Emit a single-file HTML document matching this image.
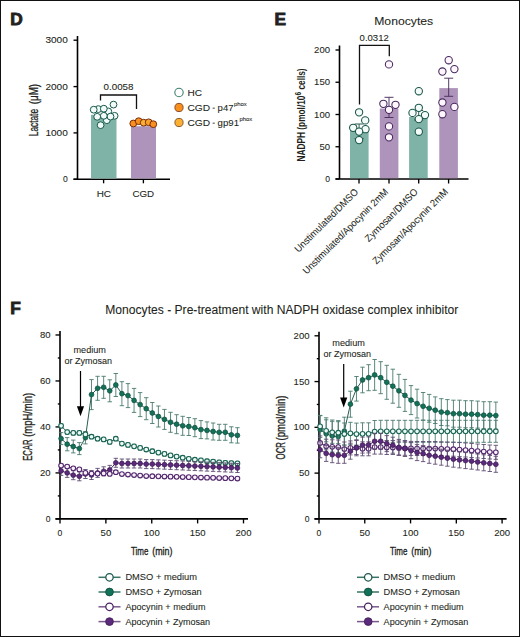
<!DOCTYPE html>
<html><head><meta charset="utf-8"><style>
html,body{margin:0;padding:0;background:#fff;}
svg{display:block;font-family:"Liberation Sans",sans-serif;}
</style></head><body>
<svg width="520" height="637" viewBox="0 0 520 637">
<rect x="0.5" y="0.5" width="519" height="636" fill="#fff" stroke="#111" stroke-width="1"/>
<text x="10.2" y="24.5" font-size="17.3" text-anchor="start" font-weight="bold" fill="#231f20" stroke="#231f20" stroke-width="0.9" >D</text>
<path d="M77.5,36 V179.2 M73.5,179.2 H170" stroke="#000" stroke-width="1.6" fill="none"/>
<path d="M73.5,179.2 H77.5" stroke="#000" stroke-width="1.35"/>
<text x="67.8" y="182.2" font-size="8.6" text-anchor="end" font-weight="normal" fill="#231f20" stroke="#231f20" stroke-width="0.08" >0</text>
<path d="M73.5,132.9 H77.5" stroke="#000" stroke-width="1.35"/>
<text x="67.8" y="135.9" font-size="8.6" text-anchor="end" font-weight="normal" fill="#231f20" stroke="#231f20" stroke-width="0.08" textLength="22.4" lengthAdjust="spacingAndGlyphs" >1000</text>
<path d="M73.5,86.6 H77.5" stroke="#000" stroke-width="1.35"/>
<text x="67.8" y="89.6" font-size="8.6" text-anchor="end" font-weight="normal" fill="#231f20" stroke="#231f20" stroke-width="0.08" textLength="22.4" lengthAdjust="spacingAndGlyphs" >2000</text>
<path d="M73.5,40.2 H77.5" stroke="#000" stroke-width="1.35"/>
<text x="67.8" y="43.2" font-size="8.6" text-anchor="end" font-weight="normal" fill="#231f20" stroke="#231f20" stroke-width="0.08" textLength="22.4" lengthAdjust="spacingAndGlyphs" >3000</text>
<path d="M103.6,179.2 V183.3" stroke="#000" stroke-width="1.35"/>
<path d="M143.4,179.2 V183.3" stroke="#000" stroke-width="1.35"/>
<rect x="91" y="114.8" width="25.5" height="63.6" fill="#80b3a7"/>
<rect x="131" y="126.2" width="25" height="52.2" fill="#ae94bb"/>
<text x="103.8" y="196.6" font-size="9.1" text-anchor="middle" font-weight="normal" fill="#231f20" stroke="#231f20" stroke-width="0.08" textLength="14.3" lengthAdjust="spacingAndGlyphs" >HC</text>
<text x="143.3" y="196.6" font-size="9.1" text-anchor="middle" font-weight="normal" fill="#231f20" stroke="#231f20" stroke-width="0.08" textLength="21.7" lengthAdjust="spacingAndGlyphs" >CGD</text>
<path d="M100.5,100.5 V95 H136.5 V109" stroke="#111" stroke-width="1.3" fill="none"/>
<text x="103.5" y="90.3" font-size="8.6" text-anchor="start" font-weight="normal" fill="#231f20" stroke="#231f20" stroke-width="0.08" textLength="30" lengthAdjust="spacingAndGlyphs" >0.0058</text>
<circle cx="98.3" cy="109.1" r="3.4" fill="#f2fbf8" stroke="#17594b" stroke-width="1.0"/>
<circle cx="108.3" cy="111.4" r="3.4" fill="#f2fbf8" stroke="#17594b" stroke-width="1.0"/>
<circle cx="114.6" cy="115.8" r="3.4" fill="#f2fbf8" stroke="#17594b" stroke-width="1.0"/>
<circle cx="93.7" cy="109.7" r="3.4" fill="#f2fbf8" stroke="#17594b" stroke-width="1.0"/>
<circle cx="103.8" cy="108.7" r="3.4" fill="#f2fbf8" stroke="#17594b" stroke-width="1.0"/>
<circle cx="113.5" cy="104.6" r="3.4" fill="#f2fbf8" stroke="#17594b" stroke-width="1.0"/>
<circle cx="106.8" cy="120.2" r="3.4" fill="#f2fbf8" stroke="#17594b" stroke-width="1.0"/>
<circle cx="110.5" cy="116.6" r="3.4" fill="#f2fbf8" stroke="#17594b" stroke-width="1.0"/>
<circle cx="103.8" cy="115.8" r="3.4" fill="#f2fbf8" stroke="#17594b" stroke-width="1.0"/>
<circle cx="97.2" cy="116.8" r="3.4" fill="#f2fbf8" stroke="#17594b" stroke-width="1.0"/>
<circle cx="100.6" cy="125.2" r="3.4" fill="#f2fbf8" stroke="#17594b" stroke-width="1.0"/>
<circle cx="133.3" cy="123.5" r="3.4" fill="#f7901e" stroke="#7a2e10" stroke-width="1.0"/>
<circle cx="138.7" cy="121.2" r="3.4" fill="#f7901e" stroke="#7a2e10" stroke-width="1.0"/>
<circle cx="143.7" cy="122.7" r="3.4" fill="#fbb034" stroke="#7a2e10" stroke-width="1.0"/>
<circle cx="148.7" cy="122.3" r="3.4" fill="#f9a22a" stroke="#7a2e10" stroke-width="1.0"/>
<circle cx="153.3" cy="124.2" r="3.4" fill="#f7901e" stroke="#7a2e10" stroke-width="1.0"/>
<circle cx="179" cy="92.5" r="4.2" fill="#fff" stroke="#3d7d6e" stroke-width="1.1"/>
<circle cx="179" cy="107.5" r="4.1" fill="#f7901e" stroke="#8a4a22" stroke-width="1"/>
<circle cx="179" cy="122.5" r="4.1" fill="#fbb034" stroke="#8a5a2a" stroke-width="1"/>
<text x="187.5" y="95.8" font-size="9.2" text-anchor="start" font-weight="normal" fill="#231f20" stroke="#231f20" stroke-width="0.08" textLength="14.5" lengthAdjust="spacingAndGlyphs" >HC</text>
<text x="187.5" y="110.8" font-size="9.2" text-anchor="start" font-weight="normal" fill="#231f20" stroke="#231f20" stroke-width="0.08" textLength="22.6" lengthAdjust="spacingAndGlyphs" >CGD</text>
<rect x="212.6" y="107.7" width="2.2" height="0.9" fill="#333"/>
<text x="217.6" y="110.8" font-size="9.2" text-anchor="start" font-weight="normal" fill="#231f20" stroke="#231f20" stroke-width="0.08" textLength="15.9" lengthAdjust="spacingAndGlyphs" >p47</text>
<text x="234" y="105.5" font-size="5.8" text-anchor="start" font-weight="normal" fill="#231f20" stroke="#231f20" stroke-width="0.08" textLength="12.8" lengthAdjust="spacingAndGlyphs" >phox</text>
<text x="187.5" y="125.8" font-size="9.2" text-anchor="start" font-weight="normal" fill="#231f20" stroke="#231f20" stroke-width="0.08" textLength="22.6" lengthAdjust="spacingAndGlyphs" >CGD</text>
<rect x="212.6" y="122.7" width="2.2" height="0.9" fill="#333"/>
<text x="217.6" y="125.8" font-size="9.2" text-anchor="start" font-weight="normal" fill="#231f20" stroke="#231f20" stroke-width="0.08" textLength="21.4" lengthAdjust="spacingAndGlyphs" >gp91</text>
<text x="239.5" y="120.5" font-size="5.8" text-anchor="start" font-weight="normal" fill="#231f20" stroke="#231f20" stroke-width="0.08" textLength="12.8" lengthAdjust="spacingAndGlyphs" >phox</text>
<text transform="translate(38.1,136.2) rotate(-90)" font-size="12.2" fill="#231f20" stroke="#231f20" stroke-width="0.3" textLength="27.2" lengthAdjust="spacingAndGlyphs">Lactate</text>
<text transform="translate(38.1,104.3) rotate(-90)" font-size="12.2" fill="#231f20" stroke="#231f20" stroke-width="0.3" textLength="20.4" lengthAdjust="spacingAndGlyphs">(μM)</text>
<text x="274.4" y="24.5" font-size="17.3" text-anchor="start" font-weight="bold" fill="#231f20" stroke="#231f20" stroke-width="0.9" >E</text>
<text x="374.2" y="24.6" font-size="11.6" text-anchor="start" font-weight="normal" fill="#231f20" stroke="#231f20" stroke-width="0.08" textLength="59" lengthAdjust="spacingAndGlyphs" >Monocytes</text>
<path d="M339.5,45.5 V179 M335.5,179 H468.5" stroke="#000" stroke-width="1.6" fill="none"/>
<path d="M335.5,179.00 H339.5" stroke="#000" stroke-width="1.35"/>
<text x="330" y="182.0" font-size="8.6" text-anchor="end" font-weight="normal" fill="#231f20" stroke="#231f20" stroke-width="0.08" >0</text>
<path d="M335.5,146.75 H339.5" stroke="#000" stroke-width="1.35"/>
<text x="330" y="149.75" font-size="8.6" text-anchor="end" font-weight="normal" fill="#231f20" stroke="#231f20" stroke-width="0.08" textLength="10.6" lengthAdjust="spacingAndGlyphs" >50</text>
<path d="M335.5,114.50 H339.5" stroke="#000" stroke-width="1.35"/>
<text x="330" y="117.5" font-size="8.6" text-anchor="end" font-weight="normal" fill="#231f20" stroke="#231f20" stroke-width="0.08" textLength="15.899999999999999" lengthAdjust="spacingAndGlyphs" >100</text>
<path d="M335.5,82.25 H339.5" stroke="#000" stroke-width="1.35"/>
<text x="330" y="85.25" font-size="8.6" text-anchor="end" font-weight="normal" fill="#231f20" stroke="#231f20" stroke-width="0.08" textLength="15.899999999999999" lengthAdjust="spacingAndGlyphs" >150</text>
<path d="M335.5,50.00 H339.5" stroke="#000" stroke-width="1.35"/>
<text x="330" y="53.0" font-size="8.6" text-anchor="end" font-weight="normal" fill="#231f20" stroke="#231f20" stroke-width="0.08" textLength="15.899999999999999" lengthAdjust="spacingAndGlyphs" >200</text>
<path d="M359,179 V183.5" stroke="#000" stroke-width="1.35"/>
<path d="M389,179 V183.5" stroke="#000" stroke-width="1.35"/>
<path d="M418.7,179 V183.5" stroke="#000" stroke-width="1.35"/>
<path d="M448.6,179 V183.5" stroke="#000" stroke-width="1.35"/>
<rect x="350" y="130.5" width="18.6" height="47.7" fill="#80b3a7"/>
<rect x="379.8" y="108.5" width="18.6" height="69.7" fill="#ae94bb"/>
<rect x="409.1" y="117" width="18.6" height="61.2" fill="#80b3a7"/>
<rect x="439.3" y="88.1" width="18.6" height="90.1" fill="#ae94bb"/>
<path d="M359.1,124 V138.5 M354.6,124 H363.6 M354.6,138.5 H363.6" stroke="#24564b" stroke-width="0.95" fill="none"/>
<path d="M389,97.3 V117.5 M384.5,97.3 H393.5 M384.5,117.5 H393.5" stroke="#4a2e5e" stroke-width="0.95" fill="none"/>
<path d="M418.7,110.5 V120 M414.2,110.5 H423.2 M414.2,120 H423.2" stroke="#24564b" stroke-width="0.95" fill="none"/>
<path d="M448.7,78.2 V96.3 M444.2,78.2 H453.2 M444.2,96.3 H453.2" stroke="#4a2e5e" stroke-width="0.95" fill="none"/>
<path d="M359.5,104.6 V45.3 H389.3 V56.3" stroke="#111" stroke-width="1.3" fill="none"/>
<text x="359.6" y="40.6" font-size="8.6" text-anchor="start" font-weight="normal" fill="#231f20" stroke="#231f20" stroke-width="0.08" textLength="29.2" lengthAdjust="spacingAndGlyphs" >0.0312</text>
<circle cx="359.1" cy="112.3" r="3.65" fill="#f4fcfa" stroke="#1a5548" stroke-width="1.05"/>
<circle cx="365.2" cy="120.4" r="3.65" fill="#f4fcfa" stroke="#1a5548" stroke-width="1.05"/>
<circle cx="353.2" cy="127.8" r="3.65" fill="#f4fcfa" stroke="#1a5548" stroke-width="1.05"/>
<circle cx="365.5" cy="129.2" r="3.65" fill="#f4fcfa" stroke="#1a5548" stroke-width="1.05"/>
<circle cx="359.1" cy="131.6" r="3.65" fill="#f4fcfa" stroke="#1a5548" stroke-width="1.05"/>
<circle cx="359.1" cy="140.1" r="3.65" fill="#f4fcfa" stroke="#1a5548" stroke-width="1.05"/>
<circle cx="389" cy="64.4" r="3.65" fill="#fdf7fd" stroke="#46265c" stroke-width="1.05"/>
<circle cx="383.4" cy="103.8" r="3.65" fill="#fdf7fd" stroke="#46265c" stroke-width="1.05"/>
<circle cx="395.5" cy="104.8" r="3.65" fill="#fdf7fd" stroke="#46265c" stroke-width="1.05"/>
<circle cx="389" cy="109.8" r="3.65" fill="#fdf7fd" stroke="#46265c" stroke-width="1.05"/>
<circle cx="389" cy="126.4" r="3.65" fill="#fdf7fd" stroke="#46265c" stroke-width="1.05"/>
<circle cx="389" cy="137.3" r="3.65" fill="#fdf7fd" stroke="#46265c" stroke-width="1.05"/>
<circle cx="418.8" cy="91.2" r="3.65" fill="#f4fcfa" stroke="#1a5548" stroke-width="1.05"/>
<circle cx="418.8" cy="107.8" r="3.65" fill="#f4fcfa" stroke="#1a5548" stroke-width="1.05"/>
<circle cx="412.5" cy="112.9" r="3.65" fill="#f4fcfa" stroke="#1a5548" stroke-width="1.05"/>
<circle cx="425" cy="115.1" r="3.65" fill="#f4fcfa" stroke="#1a5548" stroke-width="1.05"/>
<circle cx="418.8" cy="119.1" r="3.65" fill="#f4fcfa" stroke="#1a5548" stroke-width="1.05"/>
<circle cx="418.8" cy="131.7" r="3.65" fill="#f4fcfa" stroke="#1a5548" stroke-width="1.05"/>
<circle cx="448.7" cy="60.2" r="3.65" fill="#fdf7fd" stroke="#46265c" stroke-width="1.05"/>
<circle cx="442.4" cy="71.5" r="3.65" fill="#fdf7fd" stroke="#46265c" stroke-width="1.05"/>
<circle cx="454.4" cy="69.1" r="3.65" fill="#fdf7fd" stroke="#46265c" stroke-width="1.05"/>
<circle cx="442.4" cy="102.5" r="3.65" fill="#fdf7fd" stroke="#46265c" stroke-width="1.05"/>
<circle cx="454.4" cy="106.9" r="3.65" fill="#fdf7fd" stroke="#46265c" stroke-width="1.05"/>
<circle cx="442.4" cy="114.2" r="3.65" fill="#fdf7fd" stroke="#46265c" stroke-width="1.05"/>
<text transform="translate(305.3,114.9) rotate(-90)" font-size="11.8" font-weight="bold" text-anchor="middle" fill="#231f20" textLength="93" lengthAdjust="spacingAndGlyphs">NADPH (pmol/10<tspan font-size="9.5" dy="-4.3">6</tspan><tspan dy="4.3"> cells)</tspan></text>
<text transform="translate(356.8,190.5) rotate(-45)" font-size="9.9" text-anchor="end" fill="#231f20" stroke="#231f20" stroke-width="0.05" textLength="85.5" lengthAdjust="spacingAndGlyphs" dy="3">Unstimulated/DMSO</text>
<text transform="translate(386.7,190.5) rotate(-45)" font-size="9.9" text-anchor="end" fill="#231f20" stroke="#231f20" stroke-width="0.05" textLength="116" lengthAdjust="spacingAndGlyphs" dy="3">Unstimulated/Apocynin 2mM</text>
<text transform="translate(416.5,190.5) rotate(-45)" font-size="9.9" text-anchor="end" fill="#231f20" stroke="#231f20" stroke-width="0.05" textLength="70.5" lengthAdjust="spacingAndGlyphs" dy="3">Zymosan/DMSO</text>
<text transform="translate(446.5,190.5) rotate(-45)" font-size="9.9" text-anchor="end" fill="#231f20" stroke="#231f20" stroke-width="0.05" textLength="102" lengthAdjust="spacingAndGlyphs" dy="3">Zymosan/Apocynin 2mM</text>
<text x="10.2" y="313.5" font-size="17.3" text-anchor="start" font-weight="bold" fill="#231f20" stroke="#231f20" stroke-width="0.9" >F</text>
<text x="105.3" y="313.9" font-size="12" text-anchor="start" font-weight="normal" fill="#231f20" stroke="#231f20" stroke-width="0.08" textLength="353" lengthAdjust="spacingAndGlyphs" >Monocytes - Pre-treatment with NADPH oxidase complex inhibitor</text>
<path d="M60,331.0 V518.9 M55.5,518.9 H248.0" stroke="#000" stroke-width="1.6" fill="none"/>
<path d="M55.5,518.90 H60" stroke="#000" stroke-width="1.35"/>
<text x="50.5" y="521.9" font-size="8.6" text-anchor="end" font-weight="normal" fill="#231f20" stroke="#231f20" stroke-width="0.08" >0</text>
<path d="M55.5,472.92 H60" stroke="#000" stroke-width="1.35"/>
<text x="50.5" y="475.91999999999996" font-size="8.6" text-anchor="end" font-weight="normal" fill="#231f20" stroke="#231f20" stroke-width="0.08" textLength="10.6" lengthAdjust="spacingAndGlyphs" >20</text>
<path d="M55.5,426.94 H60" stroke="#000" stroke-width="1.35"/>
<text x="50.5" y="429.94" font-size="8.6" text-anchor="end" font-weight="normal" fill="#231f20" stroke="#231f20" stroke-width="0.08" textLength="10.6" lengthAdjust="spacingAndGlyphs" >40</text>
<path d="M55.5,380.96 H60" stroke="#000" stroke-width="1.35"/>
<text x="50.5" y="383.96" font-size="8.6" text-anchor="end" font-weight="normal" fill="#231f20" stroke="#231f20" stroke-width="0.08" textLength="10.6" lengthAdjust="spacingAndGlyphs" >60</text>
<path d="M55.5,334.98 H60" stroke="#000" stroke-width="1.35"/>
<text x="50.5" y="337.98" font-size="8.6" text-anchor="end" font-weight="normal" fill="#231f20" stroke="#231f20" stroke-width="0.08" textLength="10.6" lengthAdjust="spacingAndGlyphs" >80</text>
<path d="M57.8,495.91 H60" stroke="#000" stroke-width="1.35"/>
<path d="M57.8,449.93 H60" stroke="#000" stroke-width="1.35"/>
<path d="M57.8,403.95 H60" stroke="#000" stroke-width="1.35"/>
<path d="M57.8,357.97 H60" stroke="#000" stroke-width="1.35"/>
<path d="M60.00,518.9 V523.4" stroke="#000" stroke-width="1.35"/>
<text x="60.00" y="536.4" font-size="8.6" text-anchor="middle" font-weight="normal" fill="#231f20" stroke="#231f20" stroke-width="0.08" >0</text>
<path d="M105.88,518.9 V523.4" stroke="#000" stroke-width="1.35"/>
<text x="105.88" y="536.4" font-size="8.6" text-anchor="middle" font-weight="normal" fill="#231f20" stroke="#231f20" stroke-width="0.08" textLength="10.6" lengthAdjust="spacingAndGlyphs" >50</text>
<path d="M151.75,518.9 V523.4" stroke="#000" stroke-width="1.35"/>
<text x="151.75" y="536.4" font-size="8.6" text-anchor="middle" font-weight="normal" fill="#231f20" stroke="#231f20" stroke-width="0.08" textLength="15.899999999999999" lengthAdjust="spacingAndGlyphs" >100</text>
<path d="M197.62,518.9 V523.4" stroke="#000" stroke-width="1.35"/>
<text x="197.62" y="536.4" font-size="8.6" text-anchor="middle" font-weight="normal" fill="#231f20" stroke="#231f20" stroke-width="0.08" textLength="15.899999999999999" lengthAdjust="spacingAndGlyphs" >150</text>
<path d="M243.50,518.9 V523.4" stroke="#000" stroke-width="1.35"/>
<text x="243.50" y="536.4" font-size="8.6" text-anchor="middle" font-weight="normal" fill="#231f20" stroke="#231f20" stroke-width="0.08" textLength="15.899999999999999" lengthAdjust="spacingAndGlyphs" >200</text>
<text x="131.00" y="554.8" font-size="11.8" text-anchor="start" font-weight="normal" fill="#231f20" stroke="#231f20" stroke-width="0.35" textLength="17.4" lengthAdjust="spacingAndGlyphs" >Time</text>
<text x="152.20" y="554.8" font-size="11.8" text-anchor="start" font-weight="normal" fill="#231f20" stroke="#231f20" stroke-width="0.35" textLength="20.3" lengthAdjust="spacingAndGlyphs" >(min)</text>
<text transform="translate(31.5,460.8) rotate(-90)" font-size="12.4" fill="#231f20" stroke="#231f20" stroke-width="0.35" textLength="21.4" lengthAdjust="spacingAndGlyphs">ECAR</text>
<text transform="translate(31.5,436.8) rotate(-90)" font-size="12.4" fill="#231f20" stroke="#231f20" stroke-width="0.35" textLength="44.0" lengthAdjust="spacingAndGlyphs">(mpH/min)</text>
<text x="89.7" y="352.7" font-size="9.1" text-anchor="middle" font-weight="normal" fill="#231f20" stroke="#231f20" stroke-width="0.08" textLength="32.5" lengthAdjust="spacingAndGlyphs" >medium</text>
<text x="88.3" y="363.9" font-size="9.1" text-anchor="middle" font-weight="normal" fill="#231f20" stroke="#231f20" stroke-width="0.08" textLength="47.5" lengthAdjust="spacingAndGlyphs" >or Zymosan</text>
<path d="M80.5,371 V408.2" stroke="#000" stroke-width="1.2"/>
<path d="M76.9,406.3 L84.1,406.3 L80.5,416.2 Z" fill="#000"/>
<path d="M61.10,432.60 V444.60 M58.90,432.60 H63.30 M58.90,444.60 H63.30" stroke="#4a7a6e" stroke-width="0.9" fill="none"/>
<path d="M67.18,437.60 V450.80 M64.98,437.60 H69.38 M64.98,450.80 H69.38" stroke="#4a7a6e" stroke-width="0.9" fill="none"/>
<path d="M73.26,440.10 V452.90 M71.06,440.10 H75.46 M71.06,452.90 H75.46" stroke="#4a7a6e" stroke-width="0.9" fill="none"/>
<path d="M79.34,442.60 V454.60 M77.14,442.60 H81.54 M77.14,454.60 H81.54" stroke="#4a7a6e" stroke-width="0.9" fill="none"/>
<path d="M85.42,431.50 V443.90 M83.22,431.50 H87.62 M83.22,443.90 H87.62" stroke="#4a7a6e" stroke-width="0.9" fill="none"/>
<path d="M91.50,379.60 V409.60 M89.30,379.60 H93.70 M89.30,409.60 H93.70" stroke="#4a7a6e" stroke-width="0.9" fill="none"/>
<path d="M97.58,376.30 V400.30 M95.38,376.30 H99.78 M95.38,400.30 H99.78" stroke="#4a7a6e" stroke-width="0.9" fill="none"/>
<path d="M103.66,376.30 V398.30 M101.46,376.30 H105.86 M101.46,398.30 H105.86" stroke="#4a7a6e" stroke-width="0.9" fill="none"/>
<path d="M109.74,379.80 V401.80 M107.54,379.80 H111.94 M107.54,401.80 H111.94" stroke="#4a7a6e" stroke-width="0.9" fill="none"/>
<path d="M115.82,373.50 V396.50 M113.62,373.50 H118.02 M113.62,396.50 H118.02" stroke="#4a7a6e" stroke-width="0.9" fill="none"/>
<path d="M121.90,381.70 V405.70 M119.70,381.70 H124.10 M119.70,405.70 H124.10" stroke="#4a7a6e" stroke-width="0.9" fill="none"/>
<path d="M127.98,383.60 V407.60 M125.78,383.60 H130.18 M125.78,407.60 H130.18" stroke="#4a7a6e" stroke-width="0.9" fill="none"/>
<path d="M134.06,388.40 V412.40 M131.86,388.40 H136.26 M131.86,412.40 H136.26" stroke="#4a7a6e" stroke-width="0.9" fill="none"/>
<path d="M140.14,392.60 V416.60 M137.94,392.60 H142.34 M137.94,416.60 H142.34" stroke="#4a7a6e" stroke-width="0.9" fill="none"/>
<path d="M146.22,397.70 V419.70 M144.02,397.70 H148.42 M144.02,419.70 H148.42" stroke="#4a7a6e" stroke-width="0.9" fill="none"/>
<path d="M152.30,402.50 V423.50 M150.10,402.50 H154.50 M150.10,423.50 H154.50" stroke="#4a7a6e" stroke-width="0.9" fill="none"/>
<path d="M158.38,406.00 V427.00 M156.18,406.00 H160.58 M156.18,427.00 H160.58" stroke="#4a7a6e" stroke-width="0.9" fill="none"/>
<path d="M164.46,409.40 V429.40 M162.26,409.40 H166.66 M162.26,429.40 H166.66" stroke="#4a7a6e" stroke-width="0.9" fill="none"/>
<path d="M170.54,412.30 V432.30 M168.34,412.30 H172.74 M168.34,432.30 H172.74" stroke="#4a7a6e" stroke-width="0.9" fill="none"/>
<path d="M176.62,414.70 V433.70 M174.42,414.70 H178.82 M174.42,433.70 H178.82" stroke="#4a7a6e" stroke-width="0.9" fill="none"/>
<path d="M182.70,416.30 V435.30 M180.50,416.30 H184.90 M180.50,435.30 H184.90" stroke="#4a7a6e" stroke-width="0.9" fill="none"/>
<path d="M188.78,417.50 V435.50 M186.58,417.50 H190.98 M186.58,435.50 H190.98" stroke="#4a7a6e" stroke-width="0.9" fill="none"/>
<path d="M194.86,418.70 V436.70 M192.66,418.70 H197.06 M192.66,436.70 H197.06" stroke="#4a7a6e" stroke-width="0.9" fill="none"/>
<path d="M200.94,420.60 V438.60 M198.74,420.60 H203.14 M198.74,438.60 H203.14" stroke="#4a7a6e" stroke-width="0.9" fill="none"/>
<path d="M207.02,421.90 V438.90 M204.82,421.90 H209.22 M204.82,438.90 H209.22" stroke="#4a7a6e" stroke-width="0.9" fill="none"/>
<path d="M213.10,423.00 V440.00 M210.90,423.00 H215.30 M210.90,440.00 H215.30" stroke="#4a7a6e" stroke-width="0.9" fill="none"/>
<path d="M219.18,424.30 V440.30 M216.98,424.30 H221.38 M216.98,440.30 H221.38" stroke="#4a7a6e" stroke-width="0.9" fill="none"/>
<path d="M225.26,424.30 V440.30 M223.06,424.30 H227.46 M223.06,440.30 H227.46" stroke="#4a7a6e" stroke-width="0.9" fill="none"/>
<path d="M231.34,426.80 V442.80 M229.14,426.80 H233.54 M229.14,442.80 H233.54" stroke="#4a7a6e" stroke-width="0.9" fill="none"/>
<path d="M237.42,427.70 V443.10 M235.22,427.70 H239.62 M235.22,443.10 H239.62" stroke="#4a7a6e" stroke-width="0.9" fill="none"/>
<path d="M61.10,438.60 L67.18,444.20 L73.26,446.50 L79.34,448.60 L85.42,437.70 L91.50,394.60 L97.58,388.30 L103.66,387.30 L109.74,390.80 L115.82,385.00 L121.90,393.70 L127.98,395.60 L134.06,400.40 L140.14,404.60 L146.22,408.70 L152.30,413.00 L158.38,416.50 L164.46,419.40 L170.54,422.30 L176.62,424.20 L182.70,425.80 L188.78,426.50 L194.86,427.70 L200.94,429.60 L207.02,430.40 L213.10,431.50 L219.18,432.30 L225.26,432.30 L231.34,434.80 L237.42,435.40" stroke="#2a5c51" stroke-width="1.0" fill="none"/>
<circle cx="61.10" cy="438.60" r="2.4" fill="#127258" stroke="#0b4a3b" stroke-width="0.7"/>
<circle cx="67.18" cy="444.20" r="2.4" fill="#127258" stroke="#0b4a3b" stroke-width="0.7"/>
<circle cx="73.26" cy="446.50" r="2.4" fill="#127258" stroke="#0b4a3b" stroke-width="0.7"/>
<circle cx="79.34" cy="448.60" r="2.4" fill="#127258" stroke="#0b4a3b" stroke-width="0.7"/>
<circle cx="85.42" cy="437.70" r="2.4" fill="#127258" stroke="#0b4a3b" stroke-width="0.7"/>
<circle cx="91.50" cy="394.60" r="2.4" fill="#127258" stroke="#0b4a3b" stroke-width="0.7"/>
<circle cx="97.58" cy="388.30" r="2.4" fill="#127258" stroke="#0b4a3b" stroke-width="0.7"/>
<circle cx="103.66" cy="387.30" r="2.4" fill="#127258" stroke="#0b4a3b" stroke-width="0.7"/>
<circle cx="109.74" cy="390.80" r="2.4" fill="#127258" stroke="#0b4a3b" stroke-width="0.7"/>
<circle cx="115.82" cy="385.00" r="2.4" fill="#127258" stroke="#0b4a3b" stroke-width="0.7"/>
<circle cx="121.90" cy="393.70" r="2.4" fill="#127258" stroke="#0b4a3b" stroke-width="0.7"/>
<circle cx="127.98" cy="395.60" r="2.4" fill="#127258" stroke="#0b4a3b" stroke-width="0.7"/>
<circle cx="134.06" cy="400.40" r="2.4" fill="#127258" stroke="#0b4a3b" stroke-width="0.7"/>
<circle cx="140.14" cy="404.60" r="2.4" fill="#127258" stroke="#0b4a3b" stroke-width="0.7"/>
<circle cx="146.22" cy="408.70" r="2.4" fill="#127258" stroke="#0b4a3b" stroke-width="0.7"/>
<circle cx="152.30" cy="413.00" r="2.4" fill="#127258" stroke="#0b4a3b" stroke-width="0.7"/>
<circle cx="158.38" cy="416.50" r="2.4" fill="#127258" stroke="#0b4a3b" stroke-width="0.7"/>
<circle cx="164.46" cy="419.40" r="2.4" fill="#127258" stroke="#0b4a3b" stroke-width="0.7"/>
<circle cx="170.54" cy="422.30" r="2.4" fill="#127258" stroke="#0b4a3b" stroke-width="0.7"/>
<circle cx="176.62" cy="424.20" r="2.4" fill="#127258" stroke="#0b4a3b" stroke-width="0.7"/>
<circle cx="182.70" cy="425.80" r="2.4" fill="#127258" stroke="#0b4a3b" stroke-width="0.7"/>
<circle cx="188.78" cy="426.50" r="2.4" fill="#127258" stroke="#0b4a3b" stroke-width="0.7"/>
<circle cx="194.86" cy="427.70" r="2.4" fill="#127258" stroke="#0b4a3b" stroke-width="0.7"/>
<circle cx="200.94" cy="429.60" r="2.4" fill="#127258" stroke="#0b4a3b" stroke-width="0.7"/>
<circle cx="207.02" cy="430.40" r="2.4" fill="#127258" stroke="#0b4a3b" stroke-width="0.7"/>
<circle cx="213.10" cy="431.50" r="2.4" fill="#127258" stroke="#0b4a3b" stroke-width="0.7"/>
<circle cx="219.18" cy="432.30" r="2.4" fill="#127258" stroke="#0b4a3b" stroke-width="0.7"/>
<circle cx="225.26" cy="432.30" r="2.4" fill="#127258" stroke="#0b4a3b" stroke-width="0.7"/>
<circle cx="231.34" cy="434.80" r="2.4" fill="#127258" stroke="#0b4a3b" stroke-width="0.7"/>
<circle cx="237.42" cy="435.40" r="2.4" fill="#127258" stroke="#0b4a3b" stroke-width="0.7"/>
<path d="M61.10,423.80 V427.80 M58.90,423.80 H63.30 M58.90,427.80 H63.30" stroke="#4a7a6e" stroke-width="0.9" fill="none"/>
<path d="M67.18,430.10 V434.10 M64.98,430.10 H69.38 M64.98,434.10 H69.38" stroke="#4a7a6e" stroke-width="0.9" fill="none"/>
<path d="M73.26,430.90 V434.90 M71.06,430.90 H75.46 M71.06,434.90 H75.46" stroke="#4a7a6e" stroke-width="0.9" fill="none"/>
<path d="M79.34,430.90 V434.90 M77.14,430.90 H81.54 M77.14,434.90 H81.54" stroke="#4a7a6e" stroke-width="0.9" fill="none"/>
<path d="M85.42,432.40 V436.40 M83.22,432.40 H87.62 M83.22,436.40 H87.62" stroke="#4a7a6e" stroke-width="0.9" fill="none"/>
<path d="M91.50,434.70 V438.70 M89.30,434.70 H93.70 M89.30,438.70 H93.70" stroke="#4a7a6e" stroke-width="0.9" fill="none"/>
<path d="M97.58,436.70 V440.70 M95.38,436.70 H99.78 M95.38,440.70 H99.78" stroke="#4a7a6e" stroke-width="0.9" fill="none"/>
<path d="M103.66,437.40 V441.40 M101.46,437.40 H105.86 M101.46,441.40 H105.86" stroke="#4a7a6e" stroke-width="0.9" fill="none"/>
<path d="M109.74,439.90 V443.90 M107.54,439.90 H111.94 M107.54,443.90 H111.94" stroke="#4a7a6e" stroke-width="0.9" fill="none"/>
<path d="M115.82,436.70 V440.70 M113.62,436.70 H118.02 M113.62,440.70 H118.02" stroke="#4a7a6e" stroke-width="0.9" fill="none"/>
<path d="M121.90,441.60 V445.60 M119.70,441.60 H124.10 M119.70,445.60 H124.10" stroke="#4a7a6e" stroke-width="0.9" fill="none"/>
<path d="M127.98,442.90 V446.90 M125.78,442.90 H130.18 M125.78,446.90 H130.18" stroke="#4a7a6e" stroke-width="0.9" fill="none"/>
<path d="M134.06,444.30 V448.30 M131.86,444.30 H136.26 M131.86,448.30 H136.26" stroke="#4a7a6e" stroke-width="0.9" fill="none"/>
<path d="M140.14,445.90 V449.90 M137.94,445.90 H142.34 M137.94,449.90 H142.34" stroke="#4a7a6e" stroke-width="0.9" fill="none"/>
<path d="M146.22,447.50 V451.50 M144.02,447.50 H148.42 M144.02,451.50 H148.42" stroke="#4a7a6e" stroke-width="0.9" fill="none"/>
<path d="M152.30,449.20 V453.20 M150.10,449.20 H154.50 M150.10,453.20 H154.50" stroke="#4a7a6e" stroke-width="0.9" fill="none"/>
<path d="M158.38,450.60 V454.60 M156.18,450.60 H160.58 M156.18,454.60 H160.58" stroke="#4a7a6e" stroke-width="0.9" fill="none"/>
<path d="M164.46,451.90 V455.90 M162.26,451.90 H166.66 M162.26,455.90 H166.66" stroke="#4a7a6e" stroke-width="0.9" fill="none"/>
<path d="M170.54,453.40 V457.40 M168.34,453.40 H172.74 M168.34,457.40 H172.74" stroke="#4a7a6e" stroke-width="0.9" fill="none"/>
<path d="M176.62,454.60 V458.60 M174.42,454.60 H178.82 M174.42,458.60 H178.82" stroke="#4a7a6e" stroke-width="0.9" fill="none"/>
<path d="M182.70,455.70 V459.70 M180.50,455.70 H184.90 M180.50,459.70 H184.90" stroke="#4a7a6e" stroke-width="0.9" fill="none"/>
<path d="M188.78,456.80 V460.80 M186.58,456.80 H190.98 M186.58,460.80 H190.98" stroke="#4a7a6e" stroke-width="0.9" fill="none"/>
<path d="M194.86,457.70 V461.70 M192.66,457.70 H197.06 M192.66,461.70 H197.06" stroke="#4a7a6e" stroke-width="0.9" fill="none"/>
<path d="M200.94,458.30 V462.30 M198.74,458.30 H203.14 M198.74,462.30 H203.14" stroke="#4a7a6e" stroke-width="0.9" fill="none"/>
<path d="M207.02,459.20 V463.20 M204.82,459.20 H209.22 M204.82,463.20 H209.22" stroke="#4a7a6e" stroke-width="0.9" fill="none"/>
<path d="M213.10,459.50 V463.50 M210.90,459.50 H215.30 M210.90,463.50 H215.30" stroke="#4a7a6e" stroke-width="0.9" fill="none"/>
<path d="M219.18,460.30 V464.30 M216.98,460.30 H221.38 M216.98,464.30 H221.38" stroke="#4a7a6e" stroke-width="0.9" fill="none"/>
<path d="M225.26,460.80 V464.80 M223.06,460.80 H227.46 M223.06,464.80 H227.46" stroke="#4a7a6e" stroke-width="0.9" fill="none"/>
<path d="M231.34,461.10 V465.10 M229.14,461.10 H233.54 M229.14,465.10 H233.54" stroke="#4a7a6e" stroke-width="0.9" fill="none"/>
<path d="M237.42,461.40 V465.40 M235.22,461.40 H239.62 M235.22,465.40 H239.62" stroke="#4a7a6e" stroke-width="0.9" fill="none"/>
<path d="M61.10,425.80 L67.18,432.10 L73.26,432.90 L79.34,432.90 L85.42,434.40 L91.50,436.70 L97.58,438.70 L103.66,439.40 L109.74,441.90 L115.82,438.70 L121.90,443.60 L127.98,444.90 L134.06,446.30 L140.14,447.90 L146.22,449.50 L152.30,451.20 L158.38,452.60 L164.46,453.90 L170.54,455.40 L176.62,456.60 L182.70,457.70 L188.78,458.80 L194.86,459.70 L200.94,460.30 L207.02,461.20 L213.10,461.50 L219.18,462.30 L225.26,462.80 L231.34,463.10 L237.42,463.40" stroke="#2a5c51" stroke-width="1.0" fill="none"/>
<circle cx="61.10" cy="425.80" r="2.35" fill="#eafaf5" stroke="#1b6353" stroke-width="1.05"/>
<circle cx="67.18" cy="432.10" r="2.35" fill="#eafaf5" stroke="#1b6353" stroke-width="1.05"/>
<circle cx="73.26" cy="432.90" r="2.35" fill="#eafaf5" stroke="#1b6353" stroke-width="1.05"/>
<circle cx="79.34" cy="432.90" r="2.35" fill="#eafaf5" stroke="#1b6353" stroke-width="1.05"/>
<circle cx="85.42" cy="434.40" r="2.35" fill="#eafaf5" stroke="#1b6353" stroke-width="1.05"/>
<circle cx="91.50" cy="436.70" r="2.35" fill="#eafaf5" stroke="#1b6353" stroke-width="1.05"/>
<circle cx="97.58" cy="438.70" r="2.35" fill="#eafaf5" stroke="#1b6353" stroke-width="1.05"/>
<circle cx="103.66" cy="439.40" r="2.35" fill="#eafaf5" stroke="#1b6353" stroke-width="1.05"/>
<circle cx="109.74" cy="441.90" r="2.35" fill="#eafaf5" stroke="#1b6353" stroke-width="1.05"/>
<circle cx="115.82" cy="438.70" r="2.35" fill="#eafaf5" stroke="#1b6353" stroke-width="1.05"/>
<circle cx="121.90" cy="443.60" r="2.35" fill="#eafaf5" stroke="#1b6353" stroke-width="1.05"/>
<circle cx="127.98" cy="444.90" r="2.35" fill="#eafaf5" stroke="#1b6353" stroke-width="1.05"/>
<circle cx="134.06" cy="446.30" r="2.35" fill="#eafaf5" stroke="#1b6353" stroke-width="1.05"/>
<circle cx="140.14" cy="447.90" r="2.35" fill="#eafaf5" stroke="#1b6353" stroke-width="1.05"/>
<circle cx="146.22" cy="449.50" r="2.35" fill="#eafaf5" stroke="#1b6353" stroke-width="1.05"/>
<circle cx="152.30" cy="451.20" r="2.35" fill="#eafaf5" stroke="#1b6353" stroke-width="1.05"/>
<circle cx="158.38" cy="452.60" r="2.35" fill="#eafaf5" stroke="#1b6353" stroke-width="1.05"/>
<circle cx="164.46" cy="453.90" r="2.35" fill="#eafaf5" stroke="#1b6353" stroke-width="1.05"/>
<circle cx="170.54" cy="455.40" r="2.35" fill="#eafaf5" stroke="#1b6353" stroke-width="1.05"/>
<circle cx="176.62" cy="456.60" r="2.35" fill="#eafaf5" stroke="#1b6353" stroke-width="1.05"/>
<circle cx="182.70" cy="457.70" r="2.35" fill="#eafaf5" stroke="#1b6353" stroke-width="1.05"/>
<circle cx="188.78" cy="458.80" r="2.35" fill="#eafaf5" stroke="#1b6353" stroke-width="1.05"/>
<circle cx="194.86" cy="459.70" r="2.35" fill="#eafaf5" stroke="#1b6353" stroke-width="1.05"/>
<circle cx="200.94" cy="460.30" r="2.35" fill="#eafaf5" stroke="#1b6353" stroke-width="1.05"/>
<circle cx="207.02" cy="461.20" r="2.35" fill="#eafaf5" stroke="#1b6353" stroke-width="1.05"/>
<circle cx="213.10" cy="461.50" r="2.35" fill="#eafaf5" stroke="#1b6353" stroke-width="1.05"/>
<circle cx="219.18" cy="462.30" r="2.35" fill="#eafaf5" stroke="#1b6353" stroke-width="1.05"/>
<circle cx="225.26" cy="462.80" r="2.35" fill="#eafaf5" stroke="#1b6353" stroke-width="1.05"/>
<circle cx="231.34" cy="463.10" r="2.35" fill="#eafaf5" stroke="#1b6353" stroke-width="1.05"/>
<circle cx="237.42" cy="463.40" r="2.35" fill="#eafaf5" stroke="#1b6353" stroke-width="1.05"/>
<path d="M61.10,466.40 V475.40 M58.90,466.40 H63.30 M58.90,475.40 H63.30" stroke="#5e4c72" stroke-width="0.9" fill="none"/>
<path d="M67.18,468.40 V477.40 M64.98,468.40 H69.38 M64.98,477.40 H69.38" stroke="#5e4c72" stroke-width="0.9" fill="none"/>
<path d="M73.26,470.70 V479.70 M71.06,470.70 H75.46 M71.06,479.70 H75.46" stroke="#5e4c72" stroke-width="0.9" fill="none"/>
<path d="M79.34,471.80 V480.80 M77.14,471.80 H81.54 M77.14,480.80 H81.54" stroke="#5e4c72" stroke-width="0.9" fill="none"/>
<path d="M85.42,469.50 V478.50 M83.22,469.50 H87.62 M83.22,478.50 H87.62" stroke="#5e4c72" stroke-width="0.9" fill="none"/>
<path d="M91.50,470.50 V479.50 M89.30,470.50 H93.70 M89.30,479.50 H93.70" stroke="#5e4c72" stroke-width="0.9" fill="none"/>
<path d="M97.58,468.40 V477.40 M95.38,468.40 H99.78 M95.38,477.40 H99.78" stroke="#5e4c72" stroke-width="0.9" fill="none"/>
<path d="M103.66,466.80 V475.80 M101.46,466.80 H105.86 M101.46,475.80 H105.86" stroke="#5e4c72" stroke-width="0.9" fill="none"/>
<path d="M109.74,465.40 V474.40 M107.54,465.40 H111.94 M107.54,474.40 H111.94" stroke="#5e4c72" stroke-width="0.9" fill="none"/>
<path d="M115.82,458.30 V467.30 M113.62,458.30 H118.02 M113.62,467.30 H118.02" stroke="#5e4c72" stroke-width="0.9" fill="none"/>
<path d="M121.90,459.00 V468.00 M119.70,459.00 H124.10 M119.70,468.00 H124.10" stroke="#5e4c72" stroke-width="0.9" fill="none"/>
<path d="M127.98,459.00 V468.00 M125.78,459.00 H130.18 M125.78,468.00 H130.18" stroke="#5e4c72" stroke-width="0.9" fill="none"/>
<path d="M134.06,459.00 V468.00 M131.86,459.00 H136.26 M131.86,468.00 H136.26" stroke="#5e4c72" stroke-width="0.9" fill="none"/>
<path d="M140.14,459.00 V468.00 M137.94,459.00 H142.34 M137.94,468.00 H142.34" stroke="#5e4c72" stroke-width="0.9" fill="none"/>
<path d="M146.22,459.60 V468.60 M144.02,459.60 H148.42 M144.02,468.60 H148.42" stroke="#5e4c72" stroke-width="0.9" fill="none"/>
<path d="M152.30,459.60 V468.60 M150.10,459.60 H154.50 M150.10,468.60 H154.50" stroke="#5e4c72" stroke-width="0.9" fill="none"/>
<path d="M158.38,459.88 V468.88 M156.18,459.88 H160.58 M156.18,468.88 H160.58" stroke="#5e4c72" stroke-width="0.9" fill="none"/>
<path d="M164.46,460.16 V469.16 M162.26,460.16 H166.66 M162.26,469.16 H166.66" stroke="#5e4c72" stroke-width="0.9" fill="none"/>
<path d="M170.54,460.44 V469.44 M168.34,460.44 H172.74 M168.34,469.44 H172.74" stroke="#5e4c72" stroke-width="0.9" fill="none"/>
<path d="M176.62,460.71 V469.71 M174.42,460.71 H178.82 M174.42,469.71 H178.82" stroke="#5e4c72" stroke-width="0.9" fill="none"/>
<path d="M182.70,460.99 V469.99 M180.50,460.99 H184.90 M180.50,469.99 H184.90" stroke="#5e4c72" stroke-width="0.9" fill="none"/>
<path d="M188.78,461.27 V470.27 M186.58,461.27 H190.98 M186.58,470.27 H190.98" stroke="#5e4c72" stroke-width="0.9" fill="none"/>
<path d="M194.86,461.55 V470.55 M192.66,461.55 H197.06 M192.66,470.55 H197.06" stroke="#5e4c72" stroke-width="0.9" fill="none"/>
<path d="M200.94,461.83 V470.83 M198.74,461.83 H203.14 M198.74,470.83 H203.14" stroke="#5e4c72" stroke-width="0.9" fill="none"/>
<path d="M207.02,462.11 V471.11 M204.82,462.11 H209.22 M204.82,471.11 H209.22" stroke="#5e4c72" stroke-width="0.9" fill="none"/>
<path d="M213.10,462.39 V471.39 M210.90,462.39 H215.30 M210.90,471.39 H215.30" stroke="#5e4c72" stroke-width="0.9" fill="none"/>
<path d="M219.18,462.66 V471.66 M216.98,462.66 H221.38 M216.98,471.66 H221.38" stroke="#5e4c72" stroke-width="0.9" fill="none"/>
<path d="M225.26,462.94 V471.94 M223.06,462.94 H227.46 M223.06,471.94 H227.46" stroke="#5e4c72" stroke-width="0.9" fill="none"/>
<path d="M231.34,463.22 V472.22 M229.14,463.22 H233.54 M229.14,472.22 H233.54" stroke="#5e4c72" stroke-width="0.9" fill="none"/>
<path d="M237.42,463.50 V472.50 M235.22,463.50 H239.62 M235.22,472.50 H239.62" stroke="#5e4c72" stroke-width="0.9" fill="none"/>
<path d="M61.10,470.90 L67.18,472.90 L73.26,475.20 L79.34,476.30 L85.42,474.00 L91.50,475.00 L97.58,472.90 L103.66,471.30 L109.74,469.90 L115.82,462.80 L121.90,463.50 L127.98,463.50 L134.06,463.50 L140.14,463.50 L146.22,464.10 L152.30,464.10 L158.38,464.38 L164.46,464.66 L170.54,464.94 L176.62,465.21 L182.70,465.49 L188.78,465.77 L194.86,466.05 L200.94,466.33 L207.02,466.61 L213.10,466.89 L219.18,467.16 L225.26,467.44 L231.34,467.72 L237.42,468.00" stroke="#4e2e62" stroke-width="1.0" fill="none"/>
<circle cx="61.10" cy="470.90" r="2.4" fill="#5c2a7c" stroke="#3c1a50" stroke-width="0.7"/>
<circle cx="67.18" cy="472.90" r="2.4" fill="#5c2a7c" stroke="#3c1a50" stroke-width="0.7"/>
<circle cx="73.26" cy="475.20" r="2.4" fill="#5c2a7c" stroke="#3c1a50" stroke-width="0.7"/>
<circle cx="79.34" cy="476.30" r="2.4" fill="#5c2a7c" stroke="#3c1a50" stroke-width="0.7"/>
<circle cx="85.42" cy="474.00" r="2.4" fill="#5c2a7c" stroke="#3c1a50" stroke-width="0.7"/>
<circle cx="91.50" cy="475.00" r="2.4" fill="#5c2a7c" stroke="#3c1a50" stroke-width="0.7"/>
<circle cx="97.58" cy="472.90" r="2.4" fill="#5c2a7c" stroke="#3c1a50" stroke-width="0.7"/>
<circle cx="103.66" cy="471.30" r="2.4" fill="#5c2a7c" stroke="#3c1a50" stroke-width="0.7"/>
<circle cx="109.74" cy="469.90" r="2.4" fill="#5c2a7c" stroke="#3c1a50" stroke-width="0.7"/>
<circle cx="115.82" cy="462.80" r="2.4" fill="#5c2a7c" stroke="#3c1a50" stroke-width="0.7"/>
<circle cx="121.90" cy="463.50" r="2.4" fill="#5c2a7c" stroke="#3c1a50" stroke-width="0.7"/>
<circle cx="127.98" cy="463.50" r="2.4" fill="#5c2a7c" stroke="#3c1a50" stroke-width="0.7"/>
<circle cx="134.06" cy="463.50" r="2.4" fill="#5c2a7c" stroke="#3c1a50" stroke-width="0.7"/>
<circle cx="140.14" cy="463.50" r="2.4" fill="#5c2a7c" stroke="#3c1a50" stroke-width="0.7"/>
<circle cx="146.22" cy="464.10" r="2.4" fill="#5c2a7c" stroke="#3c1a50" stroke-width="0.7"/>
<circle cx="152.30" cy="464.10" r="2.4" fill="#5c2a7c" stroke="#3c1a50" stroke-width="0.7"/>
<circle cx="158.38" cy="464.38" r="2.4" fill="#5c2a7c" stroke="#3c1a50" stroke-width="0.7"/>
<circle cx="164.46" cy="464.66" r="2.4" fill="#5c2a7c" stroke="#3c1a50" stroke-width="0.7"/>
<circle cx="170.54" cy="464.94" r="2.4" fill="#5c2a7c" stroke="#3c1a50" stroke-width="0.7"/>
<circle cx="176.62" cy="465.21" r="2.4" fill="#5c2a7c" stroke="#3c1a50" stroke-width="0.7"/>
<circle cx="182.70" cy="465.49" r="2.4" fill="#5c2a7c" stroke="#3c1a50" stroke-width="0.7"/>
<circle cx="188.78" cy="465.77" r="2.4" fill="#5c2a7c" stroke="#3c1a50" stroke-width="0.7"/>
<circle cx="194.86" cy="466.05" r="2.4" fill="#5c2a7c" stroke="#3c1a50" stroke-width="0.7"/>
<circle cx="200.94" cy="466.33" r="2.4" fill="#5c2a7c" stroke="#3c1a50" stroke-width="0.7"/>
<circle cx="207.02" cy="466.61" r="2.4" fill="#5c2a7c" stroke="#3c1a50" stroke-width="0.7"/>
<circle cx="213.10" cy="466.89" r="2.4" fill="#5c2a7c" stroke="#3c1a50" stroke-width="0.7"/>
<circle cx="219.18" cy="467.16" r="2.4" fill="#5c2a7c" stroke="#3c1a50" stroke-width="0.7"/>
<circle cx="225.26" cy="467.44" r="2.4" fill="#5c2a7c" stroke="#3c1a50" stroke-width="0.7"/>
<circle cx="231.34" cy="467.72" r="2.4" fill="#5c2a7c" stroke="#3c1a50" stroke-width="0.7"/>
<circle cx="237.42" cy="468.00" r="2.4" fill="#5c2a7c" stroke="#3c1a50" stroke-width="0.7"/>
<path d="M61.10,464.10 V467.10 M58.90,464.10 H63.30 M58.90,467.10 H63.30" stroke="#5e4c72" stroke-width="0.9" fill="none"/>
<path d="M67.18,465.00 V468.00 M64.98,465.00 H69.38 M64.98,468.00 H69.38" stroke="#5e4c72" stroke-width="0.9" fill="none"/>
<path d="M73.26,466.80 V469.80 M71.06,466.80 H75.46 M71.06,469.80 H75.46" stroke="#5e4c72" stroke-width="0.9" fill="none"/>
<path d="M79.34,467.90 V470.90 M77.14,467.90 H81.54 M77.14,470.90 H81.54" stroke="#5e4c72" stroke-width="0.9" fill="none"/>
<path d="M85.42,471.40 V474.40 M83.22,471.40 H87.62 M83.22,474.40 H87.62" stroke="#5e4c72" stroke-width="0.9" fill="none"/>
<path d="M91.50,472.10 V475.10 M89.30,472.10 H93.70 M89.30,475.10 H93.70" stroke="#5e4c72" stroke-width="0.9" fill="none"/>
<path d="M97.58,472.10 V475.10 M95.38,472.10 H99.78 M95.38,475.10 H99.78" stroke="#5e4c72" stroke-width="0.9" fill="none"/>
<path d="M103.66,471.90 V474.90 M101.46,471.90 H105.86 M101.46,474.90 H105.86" stroke="#5e4c72" stroke-width="0.9" fill="none"/>
<path d="M109.74,472.40 V475.40 M107.54,472.40 H111.94 M107.54,475.40 H111.94" stroke="#5e4c72" stroke-width="0.9" fill="none"/>
<path d="M115.82,470.70 V473.70 M113.62,470.70 H118.02 M113.62,473.70 H118.02" stroke="#5e4c72" stroke-width="0.9" fill="none"/>
<path d="M121.90,472.50 V475.50 M119.70,472.50 H124.10 M119.70,475.50 H124.10" stroke="#5e4c72" stroke-width="0.9" fill="none"/>
<path d="M127.98,473.00 V476.00 M125.78,473.00 H130.18 M125.78,476.00 H130.18" stroke="#5e4c72" stroke-width="0.9" fill="none"/>
<path d="M134.06,473.50 V476.50 M131.86,473.50 H136.26 M131.86,476.50 H136.26" stroke="#5e4c72" stroke-width="0.9" fill="none"/>
<path d="M140.14,474.00 V477.00 M137.94,474.00 H142.34 M137.94,477.00 H142.34" stroke="#5e4c72" stroke-width="0.9" fill="none"/>
<path d="M146.22,474.50 V477.50 M144.02,474.50 H148.42 M144.02,477.50 H148.42" stroke="#5e4c72" stroke-width="0.9" fill="none"/>
<path d="M152.30,474.70 V477.70 M150.10,474.70 H154.50 M150.10,477.70 H154.50" stroke="#5e4c72" stroke-width="0.9" fill="none"/>
<path d="M158.38,474.86 V477.86 M156.18,474.86 H160.58 M156.18,477.86 H160.58" stroke="#5e4c72" stroke-width="0.9" fill="none"/>
<path d="M164.46,475.03 V478.03 M162.26,475.03 H166.66 M162.26,478.03 H166.66" stroke="#5e4c72" stroke-width="0.9" fill="none"/>
<path d="M170.54,475.19 V478.19 M168.34,475.19 H172.74 M168.34,478.19 H172.74" stroke="#5e4c72" stroke-width="0.9" fill="none"/>
<path d="M176.62,475.36 V478.36 M174.42,475.36 H178.82 M174.42,478.36 H178.82" stroke="#5e4c72" stroke-width="0.9" fill="none"/>
<path d="M182.70,475.52 V478.52 M180.50,475.52 H184.90 M180.50,478.52 H184.90" stroke="#5e4c72" stroke-width="0.9" fill="none"/>
<path d="M188.78,475.69 V478.69 M186.58,475.69 H190.98 M186.58,478.69 H190.98" stroke="#5e4c72" stroke-width="0.9" fill="none"/>
<path d="M194.86,475.85 V478.85 M192.66,475.85 H197.06 M192.66,478.85 H197.06" stroke="#5e4c72" stroke-width="0.9" fill="none"/>
<path d="M200.94,476.01 V479.01 M198.74,476.01 H203.14 M198.74,479.01 H203.14" stroke="#5e4c72" stroke-width="0.9" fill="none"/>
<path d="M207.02,476.18 V479.18 M204.82,476.18 H209.22 M204.82,479.18 H209.22" stroke="#5e4c72" stroke-width="0.9" fill="none"/>
<path d="M213.10,476.34 V479.34 M210.90,476.34 H215.30 M210.90,479.34 H215.30" stroke="#5e4c72" stroke-width="0.9" fill="none"/>
<path d="M219.18,476.51 V479.51 M216.98,476.51 H221.38 M216.98,479.51 H221.38" stroke="#5e4c72" stroke-width="0.9" fill="none"/>
<path d="M225.26,476.67 V479.67 M223.06,476.67 H227.46 M223.06,479.67 H227.46" stroke="#5e4c72" stroke-width="0.9" fill="none"/>
<path d="M231.34,476.84 V479.84 M229.14,476.84 H233.54 M229.14,479.84 H233.54" stroke="#5e4c72" stroke-width="0.9" fill="none"/>
<path d="M237.42,477.00 V480.00 M235.22,477.00 H239.62 M235.22,480.00 H239.62" stroke="#5e4c72" stroke-width="0.9" fill="none"/>
<path d="M61.10,465.60 L67.18,466.50 L73.26,468.30 L79.34,469.40 L85.42,472.90 L91.50,473.60 L97.58,473.60 L103.66,473.40 L109.74,473.90 L115.82,472.20 L121.90,474.00 L127.98,474.50 L134.06,475.00 L140.14,475.50 L146.22,476.00 L152.30,476.20 L158.38,476.36 L164.46,476.53 L170.54,476.69 L176.62,476.86 L182.70,477.02 L188.78,477.19 L194.86,477.35 L200.94,477.51 L207.02,477.68 L213.10,477.84 L219.18,478.01 L225.26,478.17 L231.34,478.34 L237.42,478.50" stroke="#4e2e62" stroke-width="1.0" fill="none"/>
<circle cx="61.10" cy="465.60" r="2.35" fill="#faf1fb" stroke="#52286e" stroke-width="1.05"/>
<circle cx="67.18" cy="466.50" r="2.35" fill="#faf1fb" stroke="#52286e" stroke-width="1.05"/>
<circle cx="73.26" cy="468.30" r="2.35" fill="#faf1fb" stroke="#52286e" stroke-width="1.05"/>
<circle cx="79.34" cy="469.40" r="2.35" fill="#faf1fb" stroke="#52286e" stroke-width="1.05"/>
<circle cx="85.42" cy="472.90" r="2.35" fill="#faf1fb" stroke="#52286e" stroke-width="1.05"/>
<circle cx="91.50" cy="473.60" r="2.35" fill="#faf1fb" stroke="#52286e" stroke-width="1.05"/>
<circle cx="97.58" cy="473.60" r="2.35" fill="#faf1fb" stroke="#52286e" stroke-width="1.05"/>
<circle cx="103.66" cy="473.40" r="2.35" fill="#faf1fb" stroke="#52286e" stroke-width="1.05"/>
<circle cx="109.74" cy="473.90" r="2.35" fill="#faf1fb" stroke="#52286e" stroke-width="1.05"/>
<circle cx="115.82" cy="472.20" r="2.35" fill="#faf1fb" stroke="#52286e" stroke-width="1.05"/>
<circle cx="121.90" cy="474.00" r="2.35" fill="#faf1fb" stroke="#52286e" stroke-width="1.05"/>
<circle cx="127.98" cy="474.50" r="2.35" fill="#faf1fb" stroke="#52286e" stroke-width="1.05"/>
<circle cx="134.06" cy="475.00" r="2.35" fill="#faf1fb" stroke="#52286e" stroke-width="1.05"/>
<circle cx="140.14" cy="475.50" r="2.35" fill="#faf1fb" stroke="#52286e" stroke-width="1.05"/>
<circle cx="146.22" cy="476.00" r="2.35" fill="#faf1fb" stroke="#52286e" stroke-width="1.05"/>
<circle cx="152.30" cy="476.20" r="2.35" fill="#faf1fb" stroke="#52286e" stroke-width="1.05"/>
<circle cx="158.38" cy="476.36" r="2.35" fill="#faf1fb" stroke="#52286e" stroke-width="1.05"/>
<circle cx="164.46" cy="476.53" r="2.35" fill="#faf1fb" stroke="#52286e" stroke-width="1.05"/>
<circle cx="170.54" cy="476.69" r="2.35" fill="#faf1fb" stroke="#52286e" stroke-width="1.05"/>
<circle cx="176.62" cy="476.86" r="2.35" fill="#faf1fb" stroke="#52286e" stroke-width="1.05"/>
<circle cx="182.70" cy="477.02" r="2.35" fill="#faf1fb" stroke="#52286e" stroke-width="1.05"/>
<circle cx="188.78" cy="477.19" r="2.35" fill="#faf1fb" stroke="#52286e" stroke-width="1.05"/>
<circle cx="194.86" cy="477.35" r="2.35" fill="#faf1fb" stroke="#52286e" stroke-width="1.05"/>
<circle cx="200.94" cy="477.51" r="2.35" fill="#faf1fb" stroke="#52286e" stroke-width="1.05"/>
<circle cx="207.02" cy="477.68" r="2.35" fill="#faf1fb" stroke="#52286e" stroke-width="1.05"/>
<circle cx="213.10" cy="477.84" r="2.35" fill="#faf1fb" stroke="#52286e" stroke-width="1.05"/>
<circle cx="219.18" cy="478.01" r="2.35" fill="#faf1fb" stroke="#52286e" stroke-width="1.05"/>
<circle cx="225.26" cy="478.17" r="2.35" fill="#faf1fb" stroke="#52286e" stroke-width="1.05"/>
<circle cx="231.34" cy="478.34" r="2.35" fill="#faf1fb" stroke="#52286e" stroke-width="1.05"/>
<circle cx="237.42" cy="478.50" r="2.35" fill="#faf1fb" stroke="#52286e" stroke-width="1.05"/>
<path d="M319.0,331.8 V518.9 M314.5,518.9 H506.6" stroke="#000" stroke-width="1.6" fill="none"/>
<path d="M314.5,518.90 H319.0" stroke="#000" stroke-width="1.35"/>
<text x="309.5" y="521.9" font-size="8.6" text-anchor="end" font-weight="normal" fill="#231f20" stroke="#231f20" stroke-width="0.08" >0</text>
<path d="M314.5,473.12 H319.0" stroke="#000" stroke-width="1.35"/>
<text x="309.5" y="476.125" font-size="8.6" text-anchor="end" font-weight="normal" fill="#231f20" stroke="#231f20" stroke-width="0.08" textLength="10.6" lengthAdjust="spacingAndGlyphs" >50</text>
<path d="M314.5,427.35 H319.0" stroke="#000" stroke-width="1.35"/>
<text x="309.5" y="430.34999999999997" font-size="8.6" text-anchor="end" font-weight="normal" fill="#231f20" stroke="#231f20" stroke-width="0.08" textLength="15.899999999999999" lengthAdjust="spacingAndGlyphs" >100</text>
<path d="M314.5,381.57 H319.0" stroke="#000" stroke-width="1.35"/>
<text x="309.5" y="384.575" font-size="8.6" text-anchor="end" font-weight="normal" fill="#231f20" stroke="#231f20" stroke-width="0.08" textLength="15.899999999999999" lengthAdjust="spacingAndGlyphs" >150</text>
<path d="M314.5,335.80 H319.0" stroke="#000" stroke-width="1.35"/>
<text x="309.5" y="338.79999999999995" font-size="8.6" text-anchor="end" font-weight="normal" fill="#231f20" stroke="#231f20" stroke-width="0.08" textLength="15.899999999999999" lengthAdjust="spacingAndGlyphs" >200</text>
<path d="M316.8,496.01 H319.0" stroke="#000" stroke-width="1.35"/>
<path d="M316.8,450.24 H319.0" stroke="#000" stroke-width="1.35"/>
<path d="M316.8,404.46 H319.0" stroke="#000" stroke-width="1.35"/>
<path d="M316.8,358.69 H319.0" stroke="#000" stroke-width="1.35"/>
<path d="M319.00,518.9 V523.4" stroke="#000" stroke-width="1.35"/>
<text x="319.00" y="536.4" font-size="8.6" text-anchor="middle" font-weight="normal" fill="#231f20" stroke="#231f20" stroke-width="0.08" >0</text>
<path d="M364.77,518.9 V523.4" stroke="#000" stroke-width="1.35"/>
<text x="364.77" y="536.4" font-size="8.6" text-anchor="middle" font-weight="normal" fill="#231f20" stroke="#231f20" stroke-width="0.08" textLength="10.6" lengthAdjust="spacingAndGlyphs" >50</text>
<path d="M410.55,518.9 V523.4" stroke="#000" stroke-width="1.35"/>
<text x="410.55" y="536.4" font-size="8.6" text-anchor="middle" font-weight="normal" fill="#231f20" stroke="#231f20" stroke-width="0.08" textLength="15.899999999999999" lengthAdjust="spacingAndGlyphs" >100</text>
<path d="M456.32,518.9 V523.4" stroke="#000" stroke-width="1.35"/>
<text x="456.32" y="536.4" font-size="8.6" text-anchor="middle" font-weight="normal" fill="#231f20" stroke="#231f20" stroke-width="0.08" textLength="15.899999999999999" lengthAdjust="spacingAndGlyphs" >150</text>
<path d="M502.10,518.9 V523.4" stroke="#000" stroke-width="1.35"/>
<text x="502.10" y="536.4" font-size="8.6" text-anchor="middle" font-weight="normal" fill="#231f20" stroke="#231f20" stroke-width="0.08" textLength="15.899999999999999" lengthAdjust="spacingAndGlyphs" >200</text>
<text x="390.00" y="554.8" font-size="11.8" text-anchor="start" font-weight="normal" fill="#231f20" stroke="#231f20" stroke-width="0.35" textLength="17.4" lengthAdjust="spacingAndGlyphs" >Time</text>
<text x="411.20" y="554.8" font-size="11.8" text-anchor="start" font-weight="normal" fill="#231f20" stroke="#231f20" stroke-width="0.35" textLength="20.3" lengthAdjust="spacingAndGlyphs" >(min)</text>
<text transform="translate(285.2,459.4) rotate(-90)" font-size="12.4" fill="#231f20" stroke="#231f20" stroke-width="0.35" textLength="17.4" lengthAdjust="spacingAndGlyphs">OCR</text>
<text transform="translate(285.2,440.5) rotate(-90)" font-size="12.4" fill="#231f20" stroke="#231f20" stroke-width="0.35" textLength="45.0" lengthAdjust="spacingAndGlyphs">(pmol/min)</text>
<text x="348.6" y="345.5" font-size="9.1" text-anchor="middle" font-weight="normal" fill="#231f20" stroke="#231f20" stroke-width="0.08" textLength="32.5" lengthAdjust="spacingAndGlyphs" >medium</text>
<text x="347.3" y="356.7" font-size="9.1" text-anchor="middle" font-weight="normal" fill="#231f20" stroke="#231f20" stroke-width="0.08" textLength="47.5" lengthAdjust="spacingAndGlyphs" >or Zymosan</text>
<path d="M343.7,363.9 V399.4" stroke="#000" stroke-width="1.2"/>
<path d="M340.09999999999997,397.5 L347.3,397.5 L343.7,407.4 Z" fill="#000"/>
<path d="M320.10,415.70 V443.70 M317.90,415.70 H322.30 M317.90,443.70 H322.30" stroke="#4a7a6e" stroke-width="0.9" fill="none"/>
<path d="M326.16,417.80 V449.80 M323.96,417.80 H328.36 M323.96,449.80 H328.36" stroke="#4a7a6e" stroke-width="0.9" fill="none"/>
<path d="M332.22,420.00 V452.00 M330.02,420.00 H334.42 M330.02,452.00 H334.42" stroke="#4a7a6e" stroke-width="0.9" fill="none"/>
<path d="M338.28,420.60 V452.60 M336.08,420.60 H340.48 M336.08,452.60 H340.48" stroke="#4a7a6e" stroke-width="0.9" fill="none"/>
<path d="M344.34,417.20 V445.20 M342.14,417.20 H346.54 M342.14,445.20 H346.54" stroke="#4a7a6e" stroke-width="0.9" fill="none"/>
<path d="M350.40,391.20 V417.20 M348.20,391.20 H352.60 M348.20,417.20 H352.60" stroke="#4a7a6e" stroke-width="0.9" fill="none"/>
<path d="M356.46,376.50 V401.10 M354.26,376.50 H358.66 M354.26,401.10 H358.66" stroke="#4a7a6e" stroke-width="0.9" fill="none"/>
<path d="M362.52,367.20 V392.80 M360.32,367.20 H364.72 M360.32,392.80 H364.72" stroke="#4a7a6e" stroke-width="0.9" fill="none"/>
<path d="M368.58,364.70 V390.70 M366.38,364.70 H370.78 M366.38,390.70 H370.78" stroke="#4a7a6e" stroke-width="0.9" fill="none"/>
<path d="M374.64,359.50 V390.30 M372.44,359.50 H376.84 M372.44,390.30 H376.84" stroke="#4a7a6e" stroke-width="0.9" fill="none"/>
<path d="M380.70,361.70 V393.70 M378.50,361.70 H382.90 M378.50,393.70 H382.90" stroke="#4a7a6e" stroke-width="0.9" fill="none"/>
<path d="M386.76,365.30 V399.30 M384.56,365.30 H388.96 M384.56,399.30 H388.96" stroke="#4a7a6e" stroke-width="0.9" fill="none"/>
<path d="M392.82,369.20 V403.20 M390.62,369.20 H395.02 M390.62,403.20 H395.02" stroke="#4a7a6e" stroke-width="0.9" fill="none"/>
<path d="M398.88,374.30 V407.30 M396.68,374.30 H401.08 M396.68,407.30 H401.08" stroke="#4a7a6e" stroke-width="0.9" fill="none"/>
<path d="M404.94,379.40 V411.40 M402.74,379.40 H407.14 M402.74,411.40 H407.14" stroke="#4a7a6e" stroke-width="0.9" fill="none"/>
<path d="M411.00,385.60 V414.60 M408.80,385.60 H413.20 M408.80,414.60 H413.20" stroke="#4a7a6e" stroke-width="0.9" fill="none"/>
<path d="M417.06,389.20 V418.00 M414.86,389.20 H419.26 M414.86,418.00 H419.26" stroke="#4a7a6e" stroke-width="0.9" fill="none"/>
<path d="M423.12,392.50 V420.10 M420.92,392.50 H425.32 M420.92,420.10 H425.32" stroke="#4a7a6e" stroke-width="0.9" fill="none"/>
<path d="M429.18,394.40 V422.20 M426.98,394.40 H431.38 M426.98,422.20 H431.38" stroke="#4a7a6e" stroke-width="0.9" fill="none"/>
<path d="M435.24,396.90 V423.50 M433.04,396.90 H437.44 M433.04,423.50 H437.44" stroke="#4a7a6e" stroke-width="0.9" fill="none"/>
<path d="M441.30,398.70 V425.50 M439.10,398.70 H443.50 M439.10,425.50 H443.50" stroke="#4a7a6e" stroke-width="0.9" fill="none"/>
<path d="M447.36,399.60 V425.80 M445.16,399.60 H449.56 M445.16,425.80 H449.56" stroke="#4a7a6e" stroke-width="0.9" fill="none"/>
<path d="M453.42,400.20 V427.20 M451.22,400.20 H455.62 M451.22,427.20 H455.62" stroke="#4a7a6e" stroke-width="0.9" fill="none"/>
<path d="M459.48,400.20 V427.20 M457.28,400.20 H461.68 M457.28,427.20 H461.68" stroke="#4a7a6e" stroke-width="0.9" fill="none"/>
<path d="M465.54,400.70 V427.70 M463.34,400.70 H467.74 M463.34,427.70 H467.74" stroke="#4a7a6e" stroke-width="0.9" fill="none"/>
<path d="M471.60,400.70 V427.70 M469.40,400.70 H473.80 M469.40,427.70 H473.80" stroke="#4a7a6e" stroke-width="0.9" fill="none"/>
<path d="M477.66,401.10 V428.10 M475.46,401.10 H479.86 M475.46,428.10 H479.86" stroke="#4a7a6e" stroke-width="0.9" fill="none"/>
<path d="M483.72,401.70 V428.70 M481.52,401.70 H485.92 M481.52,428.70 H485.92" stroke="#4a7a6e" stroke-width="0.9" fill="none"/>
<path d="M489.78,401.70 V428.70 M487.58,401.70 H491.98 M487.58,428.70 H491.98" stroke="#4a7a6e" stroke-width="0.9" fill="none"/>
<path d="M495.84,402.10 V429.10 M493.64,402.10 H498.04 M493.64,429.10 H498.04" stroke="#4a7a6e" stroke-width="0.9" fill="none"/>
<path d="M320.10,429.70 L326.16,433.80 L332.22,436.00 L338.28,436.60 L344.34,431.20 L350.40,404.20 L356.46,388.80 L362.52,380.00 L368.58,377.70 L374.64,374.90 L380.70,377.70 L386.76,382.30 L392.82,386.20 L398.88,390.80 L404.94,395.40 L411.00,400.10 L417.06,403.60 L423.12,406.30 L429.18,408.30 L435.24,410.20 L441.30,412.10 L447.36,412.70 L453.42,413.70 L459.48,413.70 L465.54,414.20 L471.60,414.20 L477.66,414.60 L483.72,415.20 L489.78,415.20 L495.84,415.60" stroke="#2a5c51" stroke-width="1.0" fill="none"/>
<circle cx="320.10" cy="429.70" r="2.4" fill="#127258" stroke="#0b4a3b" stroke-width="0.7"/>
<circle cx="326.16" cy="433.80" r="2.4" fill="#127258" stroke="#0b4a3b" stroke-width="0.7"/>
<circle cx="332.22" cy="436.00" r="2.4" fill="#127258" stroke="#0b4a3b" stroke-width="0.7"/>
<circle cx="338.28" cy="436.60" r="2.4" fill="#127258" stroke="#0b4a3b" stroke-width="0.7"/>
<circle cx="344.34" cy="431.20" r="2.4" fill="#127258" stroke="#0b4a3b" stroke-width="0.7"/>
<circle cx="350.40" cy="404.20" r="2.4" fill="#127258" stroke="#0b4a3b" stroke-width="0.7"/>
<circle cx="356.46" cy="388.80" r="2.4" fill="#127258" stroke="#0b4a3b" stroke-width="0.7"/>
<circle cx="362.52" cy="380.00" r="2.4" fill="#127258" stroke="#0b4a3b" stroke-width="0.7"/>
<circle cx="368.58" cy="377.70" r="2.4" fill="#127258" stroke="#0b4a3b" stroke-width="0.7"/>
<circle cx="374.64" cy="374.90" r="2.4" fill="#127258" stroke="#0b4a3b" stroke-width="0.7"/>
<circle cx="380.70" cy="377.70" r="2.4" fill="#127258" stroke="#0b4a3b" stroke-width="0.7"/>
<circle cx="386.76" cy="382.30" r="2.4" fill="#127258" stroke="#0b4a3b" stroke-width="0.7"/>
<circle cx="392.82" cy="386.20" r="2.4" fill="#127258" stroke="#0b4a3b" stroke-width="0.7"/>
<circle cx="398.88" cy="390.80" r="2.4" fill="#127258" stroke="#0b4a3b" stroke-width="0.7"/>
<circle cx="404.94" cy="395.40" r="2.4" fill="#127258" stroke="#0b4a3b" stroke-width="0.7"/>
<circle cx="411.00" cy="400.10" r="2.4" fill="#127258" stroke="#0b4a3b" stroke-width="0.7"/>
<circle cx="417.06" cy="403.60" r="2.4" fill="#127258" stroke="#0b4a3b" stroke-width="0.7"/>
<circle cx="423.12" cy="406.30" r="2.4" fill="#127258" stroke="#0b4a3b" stroke-width="0.7"/>
<circle cx="429.18" cy="408.30" r="2.4" fill="#127258" stroke="#0b4a3b" stroke-width="0.7"/>
<circle cx="435.24" cy="410.20" r="2.4" fill="#127258" stroke="#0b4a3b" stroke-width="0.7"/>
<circle cx="441.30" cy="412.10" r="2.4" fill="#127258" stroke="#0b4a3b" stroke-width="0.7"/>
<circle cx="447.36" cy="412.70" r="2.4" fill="#127258" stroke="#0b4a3b" stroke-width="0.7"/>
<circle cx="453.42" cy="413.70" r="2.4" fill="#127258" stroke="#0b4a3b" stroke-width="0.7"/>
<circle cx="459.48" cy="413.70" r="2.4" fill="#127258" stroke="#0b4a3b" stroke-width="0.7"/>
<circle cx="465.54" cy="414.20" r="2.4" fill="#127258" stroke="#0b4a3b" stroke-width="0.7"/>
<circle cx="471.60" cy="414.20" r="2.4" fill="#127258" stroke="#0b4a3b" stroke-width="0.7"/>
<circle cx="477.66" cy="414.60" r="2.4" fill="#127258" stroke="#0b4a3b" stroke-width="0.7"/>
<circle cx="483.72" cy="415.20" r="2.4" fill="#127258" stroke="#0b4a3b" stroke-width="0.7"/>
<circle cx="489.78" cy="415.20" r="2.4" fill="#127258" stroke="#0b4a3b" stroke-width="0.7"/>
<circle cx="495.84" cy="415.60" r="2.4" fill="#127258" stroke="#0b4a3b" stroke-width="0.7"/>
<path d="M320.10,415.40 V437.40 M317.90,415.40 H322.30 M317.90,437.40 H322.30" stroke="#4a7a6e" stroke-width="0.9" fill="none"/>
<path d="M326.16,419.80 V441.80 M323.96,419.80 H328.36 M323.96,441.80 H328.36" stroke="#4a7a6e" stroke-width="0.9" fill="none"/>
<path d="M332.22,421.30 V443.30 M330.02,421.30 H334.42 M330.02,443.30 H334.42" stroke="#4a7a6e" stroke-width="0.9" fill="none"/>
<path d="M338.28,421.70 V443.70 M336.08,421.70 H340.48 M336.08,443.70 H340.48" stroke="#4a7a6e" stroke-width="0.9" fill="none"/>
<path d="M344.34,423.00 V445.00 M342.14,423.00 H346.54 M342.14,445.00 H346.54" stroke="#4a7a6e" stroke-width="0.9" fill="none"/>
<path d="M350.40,422.30 V444.30 M348.20,422.30 H352.60 M348.20,444.30 H352.60" stroke="#4a7a6e" stroke-width="0.9" fill="none"/>
<path d="M356.46,423.10 V445.10 M354.26,423.10 H358.66 M354.26,445.10 H358.66" stroke="#4a7a6e" stroke-width="0.9" fill="none"/>
<path d="M362.52,422.80 V444.80 M360.32,422.80 H364.72 M360.32,444.80 H364.72" stroke="#4a7a6e" stroke-width="0.9" fill="none"/>
<path d="M368.58,422.80 V444.80 M366.38,422.80 H370.78 M366.38,444.80 H370.78" stroke="#4a7a6e" stroke-width="0.9" fill="none"/>
<path d="M374.64,420.50 V442.50 M372.44,420.50 H376.84 M372.44,442.50 H376.84" stroke="#4a7a6e" stroke-width="0.9" fill="none"/>
<path d="M380.70,420.30 V442.30 M378.50,420.30 H382.90 M378.50,442.30 H382.90" stroke="#4a7a6e" stroke-width="0.9" fill="none"/>
<path d="M386.76,420.30 V442.30 M384.56,420.30 H388.96 M384.56,442.30 H388.96" stroke="#4a7a6e" stroke-width="0.9" fill="none"/>
<path d="M392.82,420.30 V442.30 M390.62,420.30 H395.02 M390.62,442.30 H395.02" stroke="#4a7a6e" stroke-width="0.9" fill="none"/>
<path d="M398.88,420.30 V442.30 M396.68,420.30 H401.08 M396.68,442.30 H401.08" stroke="#4a7a6e" stroke-width="0.9" fill="none"/>
<path d="M404.94,420.30 V442.30 M402.74,420.30 H407.14 M402.74,442.30 H407.14" stroke="#4a7a6e" stroke-width="0.9" fill="none"/>
<path d="M411.00,420.30 V442.30 M408.80,420.30 H413.20 M408.80,442.30 H413.20" stroke="#4a7a6e" stroke-width="0.9" fill="none"/>
<path d="M417.06,420.30 V442.30 M414.86,420.30 H419.26 M414.86,442.30 H419.26" stroke="#4a7a6e" stroke-width="0.9" fill="none"/>
<path d="M423.12,420.30 V442.30 M420.92,420.30 H425.32 M420.92,442.30 H425.32" stroke="#4a7a6e" stroke-width="0.9" fill="none"/>
<path d="M429.18,420.30 V442.30 M426.98,420.30 H431.38 M426.98,442.30 H431.38" stroke="#4a7a6e" stroke-width="0.9" fill="none"/>
<path d="M435.24,420.30 V442.30 M433.04,420.30 H437.44 M433.04,442.30 H437.44" stroke="#4a7a6e" stroke-width="0.9" fill="none"/>
<path d="M441.30,420.30 V442.30 M439.10,420.30 H443.50 M439.10,442.30 H443.50" stroke="#4a7a6e" stroke-width="0.9" fill="none"/>
<path d="M447.36,420.30 V442.30 M445.16,420.30 H449.56 M445.16,442.30 H449.56" stroke="#4a7a6e" stroke-width="0.9" fill="none"/>
<path d="M453.42,420.30 V442.30 M451.22,420.30 H455.62 M451.22,442.30 H455.62" stroke="#4a7a6e" stroke-width="0.9" fill="none"/>
<path d="M459.48,420.30 V442.30 M457.28,420.30 H461.68 M457.28,442.30 H461.68" stroke="#4a7a6e" stroke-width="0.9" fill="none"/>
<path d="M465.54,420.30 V442.30 M463.34,420.30 H467.74 M463.34,442.30 H467.74" stroke="#4a7a6e" stroke-width="0.9" fill="none"/>
<path d="M471.60,420.30 V442.30 M469.40,420.30 H473.80 M469.40,442.30 H473.80" stroke="#4a7a6e" stroke-width="0.9" fill="none"/>
<path d="M477.66,420.30 V442.30 M475.46,420.30 H479.86 M475.46,442.30 H479.86" stroke="#4a7a6e" stroke-width="0.9" fill="none"/>
<path d="M483.72,420.30 V442.30 M481.52,420.30 H485.92 M481.52,442.30 H485.92" stroke="#4a7a6e" stroke-width="0.9" fill="none"/>
<path d="M489.78,420.30 V442.30 M487.58,420.30 H491.98 M487.58,442.30 H491.98" stroke="#4a7a6e" stroke-width="0.9" fill="none"/>
<path d="M495.84,420.30 V442.30 M493.64,420.30 H498.04 M493.64,442.30 H498.04" stroke="#4a7a6e" stroke-width="0.9" fill="none"/>
<path d="M320.10,426.40 L326.16,430.80 L332.22,432.30 L338.28,432.70 L344.34,434.00 L350.40,433.30 L356.46,434.10 L362.52,433.80 L368.58,433.80 L374.64,431.50 L380.70,431.30 L386.76,431.30 L392.82,431.30 L398.88,431.30 L404.94,431.30 L411.00,431.30 L417.06,431.30 L423.12,431.30 L429.18,431.30 L435.24,431.30 L441.30,431.30 L447.36,431.30 L453.42,431.30 L459.48,431.30 L465.54,431.30 L471.60,431.30 L477.66,431.30 L483.72,431.30 L489.78,431.30 L495.84,431.30" stroke="#2a5c51" stroke-width="1.0" fill="none"/>
<circle cx="320.10" cy="426.40" r="2.35" fill="#eafaf5" stroke="#1b6353" stroke-width="1.05"/>
<circle cx="326.16" cy="430.80" r="2.35" fill="#eafaf5" stroke="#1b6353" stroke-width="1.05"/>
<circle cx="332.22" cy="432.30" r="2.35" fill="#eafaf5" stroke="#1b6353" stroke-width="1.05"/>
<circle cx="338.28" cy="432.70" r="2.35" fill="#eafaf5" stroke="#1b6353" stroke-width="1.05"/>
<circle cx="344.34" cy="434.00" r="2.35" fill="#eafaf5" stroke="#1b6353" stroke-width="1.05"/>
<circle cx="350.40" cy="433.30" r="2.35" fill="#eafaf5" stroke="#1b6353" stroke-width="1.05"/>
<circle cx="356.46" cy="434.10" r="2.35" fill="#eafaf5" stroke="#1b6353" stroke-width="1.05"/>
<circle cx="362.52" cy="433.80" r="2.35" fill="#eafaf5" stroke="#1b6353" stroke-width="1.05"/>
<circle cx="368.58" cy="433.80" r="2.35" fill="#eafaf5" stroke="#1b6353" stroke-width="1.05"/>
<circle cx="374.64" cy="431.50" r="2.35" fill="#eafaf5" stroke="#1b6353" stroke-width="1.05"/>
<circle cx="380.70" cy="431.30" r="2.35" fill="#eafaf5" stroke="#1b6353" stroke-width="1.05"/>
<circle cx="386.76" cy="431.30" r="2.35" fill="#eafaf5" stroke="#1b6353" stroke-width="1.05"/>
<circle cx="392.82" cy="431.30" r="2.35" fill="#eafaf5" stroke="#1b6353" stroke-width="1.05"/>
<circle cx="398.88" cy="431.30" r="2.35" fill="#eafaf5" stroke="#1b6353" stroke-width="1.05"/>
<circle cx="404.94" cy="431.30" r="2.35" fill="#eafaf5" stroke="#1b6353" stroke-width="1.05"/>
<circle cx="411.00" cy="431.30" r="2.35" fill="#eafaf5" stroke="#1b6353" stroke-width="1.05"/>
<circle cx="417.06" cy="431.30" r="2.35" fill="#eafaf5" stroke="#1b6353" stroke-width="1.05"/>
<circle cx="423.12" cy="431.30" r="2.35" fill="#eafaf5" stroke="#1b6353" stroke-width="1.05"/>
<circle cx="429.18" cy="431.30" r="2.35" fill="#eafaf5" stroke="#1b6353" stroke-width="1.05"/>
<circle cx="435.24" cy="431.30" r="2.35" fill="#eafaf5" stroke="#1b6353" stroke-width="1.05"/>
<circle cx="441.30" cy="431.30" r="2.35" fill="#eafaf5" stroke="#1b6353" stroke-width="1.05"/>
<circle cx="447.36" cy="431.30" r="2.35" fill="#eafaf5" stroke="#1b6353" stroke-width="1.05"/>
<circle cx="453.42" cy="431.30" r="2.35" fill="#eafaf5" stroke="#1b6353" stroke-width="1.05"/>
<circle cx="459.48" cy="431.30" r="2.35" fill="#eafaf5" stroke="#1b6353" stroke-width="1.05"/>
<circle cx="465.54" cy="431.30" r="2.35" fill="#eafaf5" stroke="#1b6353" stroke-width="1.05"/>
<circle cx="471.60" cy="431.30" r="2.35" fill="#eafaf5" stroke="#1b6353" stroke-width="1.05"/>
<circle cx="477.66" cy="431.30" r="2.35" fill="#eafaf5" stroke="#1b6353" stroke-width="1.05"/>
<circle cx="483.72" cy="431.30" r="2.35" fill="#eafaf5" stroke="#1b6353" stroke-width="1.05"/>
<circle cx="489.78" cy="431.30" r="2.35" fill="#eafaf5" stroke="#1b6353" stroke-width="1.05"/>
<circle cx="495.84" cy="431.30" r="2.35" fill="#eafaf5" stroke="#1b6353" stroke-width="1.05"/>
<path d="M320.10,435.90 V449.90 M317.90,435.90 H322.30 M317.90,449.90 H322.30" stroke="#5e4c72" stroke-width="0.9" fill="none"/>
<path d="M326.16,439.20 V453.20 M323.96,439.20 H328.36 M323.96,453.20 H328.36" stroke="#5e4c72" stroke-width="0.9" fill="none"/>
<path d="M332.22,439.80 V453.80 M330.02,439.80 H334.42 M330.02,453.80 H334.42" stroke="#5e4c72" stroke-width="0.9" fill="none"/>
<path d="M338.28,440.00 V454.00 M336.08,440.00 H340.48 M336.08,454.00 H340.48" stroke="#5e4c72" stroke-width="0.9" fill="none"/>
<path d="M344.34,442.00 V456.00 M342.14,442.00 H346.54 M342.14,456.00 H346.54" stroke="#5e4c72" stroke-width="0.9" fill="none"/>
<path d="M350.40,440.90 V454.90 M348.20,440.90 H352.60 M348.20,454.90 H352.60" stroke="#5e4c72" stroke-width="0.9" fill="none"/>
<path d="M356.46,440.50 V454.50 M354.26,440.50 H358.66 M354.26,454.50 H358.66" stroke="#5e4c72" stroke-width="0.9" fill="none"/>
<path d="M362.52,441.80 V455.80 M360.32,441.80 H364.72 M360.32,455.80 H364.72" stroke="#5e4c72" stroke-width="0.9" fill="none"/>
<path d="M368.58,441.80 V455.80 M366.38,441.80 H370.78 M366.38,455.80 H370.78" stroke="#5e4c72" stroke-width="0.9" fill="none"/>
<path d="M374.64,440.10 V454.10 M372.44,440.10 H376.84 M372.44,454.10 H376.84" stroke="#5e4c72" stroke-width="0.9" fill="none"/>
<path d="M380.70,440.10 V454.10 M378.50,440.10 H382.90 M378.50,454.10 H382.90" stroke="#5e4c72" stroke-width="0.9" fill="none"/>
<path d="M386.76,440.50 V454.50 M384.56,440.50 H388.96 M384.56,454.50 H388.96" stroke="#5e4c72" stroke-width="0.9" fill="none"/>
<path d="M392.82,440.50 V454.50 M390.62,440.50 H395.02 M390.62,454.50 H395.02" stroke="#5e4c72" stroke-width="0.9" fill="none"/>
<path d="M398.88,441.00 V455.00 M396.68,441.00 H401.08 M396.68,455.00 H401.08" stroke="#5e4c72" stroke-width="0.9" fill="none"/>
<path d="M404.94,441.30 V455.30 M402.74,441.30 H407.14 M402.74,455.30 H407.14" stroke="#5e4c72" stroke-width="0.9" fill="none"/>
<path d="M411.00,441.40 V455.40 M408.80,441.40 H413.20 M408.80,455.40 H413.20" stroke="#5e4c72" stroke-width="0.9" fill="none"/>
<path d="M417.06,441.50 V455.50 M414.86,441.50 H419.26 M414.86,455.50 H419.26" stroke="#5e4c72" stroke-width="0.9" fill="none"/>
<path d="M423.12,441.50 V455.50 M420.92,441.50 H425.32 M420.92,455.50 H425.32" stroke="#5e4c72" stroke-width="0.9" fill="none"/>
<path d="M429.18,441.50 V455.50 M426.98,441.50 H431.38 M426.98,455.50 H431.38" stroke="#5e4c72" stroke-width="0.9" fill="none"/>
<path d="M435.24,441.50 V455.50 M433.04,441.50 H437.44 M433.04,455.50 H437.44" stroke="#5e4c72" stroke-width="0.9" fill="none"/>
<path d="M441.30,441.80 V455.80 M439.10,441.80 H443.50 M439.10,455.80 H443.50" stroke="#5e4c72" stroke-width="0.9" fill="none"/>
<path d="M447.36,442.00 V456.00 M445.16,442.00 H449.56 M445.16,456.00 H449.56" stroke="#5e4c72" stroke-width="0.9" fill="none"/>
<path d="M453.42,442.20 V456.20 M451.22,442.20 H455.62 M451.22,456.20 H455.62" stroke="#5e4c72" stroke-width="0.9" fill="none"/>
<path d="M459.48,442.60 V456.60 M457.28,442.60 H461.68 M457.28,456.60 H461.68" stroke="#5e4c72" stroke-width="0.9" fill="none"/>
<path d="M465.54,443.00 V457.00 M463.34,443.00 H467.74 M463.34,457.00 H467.74" stroke="#5e4c72" stroke-width="0.9" fill="none"/>
<path d="M471.60,443.50 V457.50 M469.40,443.50 H473.80 M469.40,457.50 H473.80" stroke="#5e4c72" stroke-width="0.9" fill="none"/>
<path d="M477.66,444.00 V458.00 M475.46,444.00 H479.86 M475.46,458.00 H479.86" stroke="#5e4c72" stroke-width="0.9" fill="none"/>
<path d="M483.72,444.50 V458.50 M481.52,444.50 H485.92 M481.52,458.50 H485.92" stroke="#5e4c72" stroke-width="0.9" fill="none"/>
<path d="M489.78,445.00 V459.00 M487.58,445.00 H491.98 M487.58,459.00 H491.98" stroke="#5e4c72" stroke-width="0.9" fill="none"/>
<path d="M495.84,445.30 V459.30 M493.64,445.30 H498.04 M493.64,459.30 H498.04" stroke="#5e4c72" stroke-width="0.9" fill="none"/>
<path d="M320.10,442.90 L326.16,446.20 L332.22,446.80 L338.28,447.00 L344.34,449.00 L350.40,447.90 L356.46,447.50 L362.52,448.80 L368.58,448.80 L374.64,447.10 L380.70,447.10 L386.76,447.50 L392.82,447.50 L398.88,448.00 L404.94,448.30 L411.00,448.40 L417.06,448.50 L423.12,448.50 L429.18,448.50 L435.24,448.50 L441.30,448.80 L447.36,449.00 L453.42,449.20 L459.48,449.60 L465.54,450.00 L471.60,450.50 L477.66,451.00 L483.72,451.50 L489.78,452.00 L495.84,452.30" stroke="#4e2e62" stroke-width="1.0" fill="none"/>
<circle cx="320.10" cy="442.90" r="2.35" fill="#faf1fb" stroke="#52286e" stroke-width="1.05"/>
<circle cx="326.16" cy="446.20" r="2.35" fill="#faf1fb" stroke="#52286e" stroke-width="1.05"/>
<circle cx="332.22" cy="446.80" r="2.35" fill="#faf1fb" stroke="#52286e" stroke-width="1.05"/>
<circle cx="338.28" cy="447.00" r="2.35" fill="#faf1fb" stroke="#52286e" stroke-width="1.05"/>
<circle cx="344.34" cy="449.00" r="2.35" fill="#faf1fb" stroke="#52286e" stroke-width="1.05"/>
<circle cx="350.40" cy="447.90" r="2.35" fill="#faf1fb" stroke="#52286e" stroke-width="1.05"/>
<circle cx="356.46" cy="447.50" r="2.35" fill="#faf1fb" stroke="#52286e" stroke-width="1.05"/>
<circle cx="362.52" cy="448.80" r="2.35" fill="#faf1fb" stroke="#52286e" stroke-width="1.05"/>
<circle cx="368.58" cy="448.80" r="2.35" fill="#faf1fb" stroke="#52286e" stroke-width="1.05"/>
<circle cx="374.64" cy="447.10" r="2.35" fill="#faf1fb" stroke="#52286e" stroke-width="1.05"/>
<circle cx="380.70" cy="447.10" r="2.35" fill="#faf1fb" stroke="#52286e" stroke-width="1.05"/>
<circle cx="386.76" cy="447.50" r="2.35" fill="#faf1fb" stroke="#52286e" stroke-width="1.05"/>
<circle cx="392.82" cy="447.50" r="2.35" fill="#faf1fb" stroke="#52286e" stroke-width="1.05"/>
<circle cx="398.88" cy="448.00" r="2.35" fill="#faf1fb" stroke="#52286e" stroke-width="1.05"/>
<circle cx="404.94" cy="448.30" r="2.35" fill="#faf1fb" stroke="#52286e" stroke-width="1.05"/>
<circle cx="411.00" cy="448.40" r="2.35" fill="#faf1fb" stroke="#52286e" stroke-width="1.05"/>
<circle cx="417.06" cy="448.50" r="2.35" fill="#faf1fb" stroke="#52286e" stroke-width="1.05"/>
<circle cx="423.12" cy="448.50" r="2.35" fill="#faf1fb" stroke="#52286e" stroke-width="1.05"/>
<circle cx="429.18" cy="448.50" r="2.35" fill="#faf1fb" stroke="#52286e" stroke-width="1.05"/>
<circle cx="435.24" cy="448.50" r="2.35" fill="#faf1fb" stroke="#52286e" stroke-width="1.05"/>
<circle cx="441.30" cy="448.80" r="2.35" fill="#faf1fb" stroke="#52286e" stroke-width="1.05"/>
<circle cx="447.36" cy="449.00" r="2.35" fill="#faf1fb" stroke="#52286e" stroke-width="1.05"/>
<circle cx="453.42" cy="449.20" r="2.35" fill="#faf1fb" stroke="#52286e" stroke-width="1.05"/>
<circle cx="459.48" cy="449.60" r="2.35" fill="#faf1fb" stroke="#52286e" stroke-width="1.05"/>
<circle cx="465.54" cy="450.00" r="2.35" fill="#faf1fb" stroke="#52286e" stroke-width="1.05"/>
<circle cx="471.60" cy="450.50" r="2.35" fill="#faf1fb" stroke="#52286e" stroke-width="1.05"/>
<circle cx="477.66" cy="451.00" r="2.35" fill="#faf1fb" stroke="#52286e" stroke-width="1.05"/>
<circle cx="483.72" cy="451.50" r="2.35" fill="#faf1fb" stroke="#52286e" stroke-width="1.05"/>
<circle cx="489.78" cy="452.00" r="2.35" fill="#faf1fb" stroke="#52286e" stroke-width="1.05"/>
<circle cx="495.84" cy="452.30" r="2.35" fill="#faf1fb" stroke="#52286e" stroke-width="1.05"/>
<path d="M320.10,441.80 V457.80 M317.90,441.80 H322.30 M317.90,457.80 H322.30" stroke="#5e4c72" stroke-width="0.9" fill="none"/>
<path d="M326.16,445.40 V461.40 M323.96,445.40 H328.36 M323.96,461.40 H328.36" stroke="#5e4c72" stroke-width="0.9" fill="none"/>
<path d="M332.22,446.70 V462.70 M330.02,446.70 H334.42 M330.02,462.70 H334.42" stroke="#5e4c72" stroke-width="0.9" fill="none"/>
<path d="M338.28,447.30 V463.30 M336.08,447.30 H340.48 M336.08,463.30 H340.48" stroke="#5e4c72" stroke-width="0.9" fill="none"/>
<path d="M344.34,447.30 V463.30 M342.14,447.30 H346.54 M342.14,463.30 H346.54" stroke="#5e4c72" stroke-width="0.9" fill="none"/>
<path d="M350.40,443.20 V459.20 M348.20,443.20 H352.60 M348.20,459.20 H352.60" stroke="#5e4c72" stroke-width="0.9" fill="none"/>
<path d="M356.46,439.80 V455.80 M354.26,439.80 H358.66 M354.26,455.80 H358.66" stroke="#5e4c72" stroke-width="0.9" fill="none"/>
<path d="M362.52,437.10 V453.10 M360.32,437.10 H364.72 M360.32,453.10 H364.72" stroke="#5e4c72" stroke-width="0.9" fill="none"/>
<path d="M368.58,436.90 V452.90 M366.38,436.90 H370.78 M366.38,452.90 H370.78" stroke="#5e4c72" stroke-width="0.9" fill="none"/>
<path d="M374.64,433.30 V449.30 M372.44,433.30 H376.84 M372.44,449.30 H376.84" stroke="#5e4c72" stroke-width="0.9" fill="none"/>
<path d="M380.70,433.30 V449.30 M378.50,433.30 H382.90 M378.50,449.30 H382.90" stroke="#5e4c72" stroke-width="0.9" fill="none"/>
<path d="M386.76,435.60 V451.60 M384.56,435.60 H388.96 M384.56,451.60 H388.96" stroke="#5e4c72" stroke-width="0.9" fill="none"/>
<path d="M392.82,437.20 V453.20 M390.62,437.20 H395.02 M390.62,453.20 H395.02" stroke="#5e4c72" stroke-width="0.9" fill="none"/>
<path d="M398.88,439.40 V455.40 M396.68,439.40 H401.08 M396.68,455.40 H401.08" stroke="#5e4c72" stroke-width="0.9" fill="none"/>
<path d="M404.94,440.50 V456.50 M402.74,440.50 H407.14 M402.74,456.50 H407.14" stroke="#5e4c72" stroke-width="0.9" fill="none"/>
<path d="M411.00,442.70 V458.70 M408.80,442.70 H413.20 M408.80,458.70 H413.20" stroke="#5e4c72" stroke-width="0.9" fill="none"/>
<path d="M417.06,444.60 V460.60 M414.86,444.60 H419.26 M414.86,460.60 H419.26" stroke="#5e4c72" stroke-width="0.9" fill="none"/>
<path d="M423.12,445.60 V461.60 M420.92,445.60 H425.32 M420.92,461.60 H425.32" stroke="#5e4c72" stroke-width="0.9" fill="none"/>
<path d="M429.18,447.30 V463.30 M426.98,447.30 H431.38 M426.98,463.30 H431.38" stroke="#5e4c72" stroke-width="0.9" fill="none"/>
<path d="M435.24,448.20 V464.20 M433.04,448.20 H437.44 M433.04,464.20 H437.44" stroke="#5e4c72" stroke-width="0.9" fill="none"/>
<path d="M441.30,449.20 V465.20 M439.10,449.20 H443.50 M439.10,465.20 H443.50" stroke="#5e4c72" stroke-width="0.9" fill="none"/>
<path d="M447.36,450.20 V466.20 M445.16,450.20 H449.56 M445.16,466.20 H449.56" stroke="#5e4c72" stroke-width="0.9" fill="none"/>
<path d="M453.42,451.20 V467.20 M451.22,451.20 H455.62 M451.22,467.20 H455.62" stroke="#5e4c72" stroke-width="0.9" fill="none"/>
<path d="M459.48,451.90 V467.90 M457.28,451.90 H461.68 M457.28,467.90 H461.68" stroke="#5e4c72" stroke-width="0.9" fill="none"/>
<path d="M465.54,452.60 V468.60 M463.34,452.60 H467.74 M463.34,468.60 H467.74" stroke="#5e4c72" stroke-width="0.9" fill="none"/>
<path d="M471.60,453.20 V469.20 M469.40,453.20 H473.80 M469.40,469.20 H473.80" stroke="#5e4c72" stroke-width="0.9" fill="none"/>
<path d="M477.66,454.00 V470.00 M475.46,454.00 H479.86 M475.46,470.00 H479.86" stroke="#5e4c72" stroke-width="0.9" fill="none"/>
<path d="M483.72,454.80 V470.80 M481.52,454.80 H485.92 M481.52,470.80 H485.92" stroke="#5e4c72" stroke-width="0.9" fill="none"/>
<path d="M489.78,455.50 V471.50 M487.58,455.50 H491.98 M487.58,471.50 H491.98" stroke="#5e4c72" stroke-width="0.9" fill="none"/>
<path d="M495.84,456.30 V472.30 M493.64,456.30 H498.04 M493.64,472.30 H498.04" stroke="#5e4c72" stroke-width="0.9" fill="none"/>
<path d="M320.10,449.80 L326.16,453.40 L332.22,454.70 L338.28,455.30 L344.34,455.30 L350.40,451.20 L356.46,447.80 L362.52,445.10 L368.58,444.90 L374.64,441.30 L380.70,441.30 L386.76,443.60 L392.82,445.20 L398.88,447.40 L404.94,448.50 L411.00,450.70 L417.06,452.60 L423.12,453.60 L429.18,455.30 L435.24,456.20 L441.30,457.20 L447.36,458.20 L453.42,459.20 L459.48,459.90 L465.54,460.60 L471.60,461.20 L477.66,462.00 L483.72,462.80 L489.78,463.50 L495.84,464.30" stroke="#4e2e62" stroke-width="1.0" fill="none"/>
<circle cx="320.10" cy="449.80" r="2.4" fill="#5c2a7c" stroke="#3c1a50" stroke-width="0.7"/>
<circle cx="326.16" cy="453.40" r="2.4" fill="#5c2a7c" stroke="#3c1a50" stroke-width="0.7"/>
<circle cx="332.22" cy="454.70" r="2.4" fill="#5c2a7c" stroke="#3c1a50" stroke-width="0.7"/>
<circle cx="338.28" cy="455.30" r="2.4" fill="#5c2a7c" stroke="#3c1a50" stroke-width="0.7"/>
<circle cx="344.34" cy="455.30" r="2.4" fill="#5c2a7c" stroke="#3c1a50" stroke-width="0.7"/>
<circle cx="350.40" cy="451.20" r="2.4" fill="#5c2a7c" stroke="#3c1a50" stroke-width="0.7"/>
<circle cx="356.46" cy="447.80" r="2.4" fill="#5c2a7c" stroke="#3c1a50" stroke-width="0.7"/>
<circle cx="362.52" cy="445.10" r="2.4" fill="#5c2a7c" stroke="#3c1a50" stroke-width="0.7"/>
<circle cx="368.58" cy="444.90" r="2.4" fill="#5c2a7c" stroke="#3c1a50" stroke-width="0.7"/>
<circle cx="374.64" cy="441.30" r="2.4" fill="#5c2a7c" stroke="#3c1a50" stroke-width="0.7"/>
<circle cx="380.70" cy="441.30" r="2.4" fill="#5c2a7c" stroke="#3c1a50" stroke-width="0.7"/>
<circle cx="386.76" cy="443.60" r="2.4" fill="#5c2a7c" stroke="#3c1a50" stroke-width="0.7"/>
<circle cx="392.82" cy="445.20" r="2.4" fill="#5c2a7c" stroke="#3c1a50" stroke-width="0.7"/>
<circle cx="398.88" cy="447.40" r="2.4" fill="#5c2a7c" stroke="#3c1a50" stroke-width="0.7"/>
<circle cx="404.94" cy="448.50" r="2.4" fill="#5c2a7c" stroke="#3c1a50" stroke-width="0.7"/>
<circle cx="411.00" cy="450.70" r="2.4" fill="#5c2a7c" stroke="#3c1a50" stroke-width="0.7"/>
<circle cx="417.06" cy="452.60" r="2.4" fill="#5c2a7c" stroke="#3c1a50" stroke-width="0.7"/>
<circle cx="423.12" cy="453.60" r="2.4" fill="#5c2a7c" stroke="#3c1a50" stroke-width="0.7"/>
<circle cx="429.18" cy="455.30" r="2.4" fill="#5c2a7c" stroke="#3c1a50" stroke-width="0.7"/>
<circle cx="435.24" cy="456.20" r="2.4" fill="#5c2a7c" stroke="#3c1a50" stroke-width="0.7"/>
<circle cx="441.30" cy="457.20" r="2.4" fill="#5c2a7c" stroke="#3c1a50" stroke-width="0.7"/>
<circle cx="447.36" cy="458.20" r="2.4" fill="#5c2a7c" stroke="#3c1a50" stroke-width="0.7"/>
<circle cx="453.42" cy="459.20" r="2.4" fill="#5c2a7c" stroke="#3c1a50" stroke-width="0.7"/>
<circle cx="459.48" cy="459.90" r="2.4" fill="#5c2a7c" stroke="#3c1a50" stroke-width="0.7"/>
<circle cx="465.54" cy="460.60" r="2.4" fill="#5c2a7c" stroke="#3c1a50" stroke-width="0.7"/>
<circle cx="471.60" cy="461.20" r="2.4" fill="#5c2a7c" stroke="#3c1a50" stroke-width="0.7"/>
<circle cx="477.66" cy="462.00" r="2.4" fill="#5c2a7c" stroke="#3c1a50" stroke-width="0.7"/>
<circle cx="483.72" cy="462.80" r="2.4" fill="#5c2a7c" stroke="#3c1a50" stroke-width="0.7"/>
<circle cx="489.78" cy="463.50" r="2.4" fill="#5c2a7c" stroke="#3c1a50" stroke-width="0.7"/>
<circle cx="495.84" cy="464.30" r="2.4" fill="#5c2a7c" stroke="#3c1a50" stroke-width="0.7"/>
<path d="M98.5,577.3 H120.5" stroke="#3a7565" stroke-width="1.5"/>
<circle cx="109.5" cy="577.3" r="3.7" fill="#fff" stroke="#17574a" stroke-width="1.25"/>
<text x="125.4" y="580.4" font-size="9.5" text-anchor="start" font-weight="normal" fill="#231f20" stroke="#231f20" stroke-width="0.08" textLength="71.6" lengthAdjust="spacingAndGlyphs" >DMSO + medium</text>
<path d="M98.5,592 H120.5" stroke="#3a7565" stroke-width="1.5"/>
<circle cx="109.5" cy="592" r="3.9" fill="#127258" stroke="#0b4a3b" stroke-width="0.8"/>
<text x="125.4" y="595.1" font-size="9.5" text-anchor="start" font-weight="normal" fill="#231f20" stroke="#231f20" stroke-width="0.08" textLength="76.3" lengthAdjust="spacingAndGlyphs" >DMSO + Zymosan</text>
<path d="M98.5,606.8 H120.5" stroke="#7a5a8e" stroke-width="1.5"/>
<circle cx="109.5" cy="606.8" r="3.7" fill="#fff" stroke="#4a1f62" stroke-width="1.25"/>
<text x="125.4" y="609.9" font-size="9.5" text-anchor="start" font-weight="normal" fill="#231f20" stroke="#231f20" stroke-width="0.08" textLength="80.1" lengthAdjust="spacingAndGlyphs" >Apocynin + medium</text>
<path d="M98.5,621.6 H120.5" stroke="#7a5a8e" stroke-width="1.5"/>
<circle cx="109.5" cy="621.6" r="3.9" fill="#5c2a7c" stroke="#3c1a50" stroke-width="0.8"/>
<text x="125.4" y="624.7" font-size="9.5" text-anchor="start" font-weight="normal" fill="#231f20" stroke="#231f20" stroke-width="0.08" textLength="84.7" lengthAdjust="spacingAndGlyphs" >Apocynin + Zymosan</text>
<path d="M357,577.3 H379" stroke="#3a7565" stroke-width="1.5"/>
<circle cx="368.2" cy="577.3" r="3.7" fill="#fff" stroke="#17574a" stroke-width="1.25"/>
<text x="383.59999999999997" y="580.4" font-size="9.5" text-anchor="start" font-weight="normal" fill="#231f20" stroke="#231f20" stroke-width="0.08" textLength="71.6" lengthAdjust="spacingAndGlyphs" >DMSO + medium</text>
<path d="M357,592 H379" stroke="#3a7565" stroke-width="1.5"/>
<circle cx="368.2" cy="592" r="3.9" fill="#127258" stroke="#0b4a3b" stroke-width="0.8"/>
<text x="383.59999999999997" y="595.1" font-size="9.5" text-anchor="start" font-weight="normal" fill="#231f20" stroke="#231f20" stroke-width="0.08" textLength="76.3" lengthAdjust="spacingAndGlyphs" >DMSO + Zymosan</text>
<path d="M357,606.8 H379" stroke="#7a5a8e" stroke-width="1.5"/>
<circle cx="368.2" cy="606.8" r="3.7" fill="#fff" stroke="#4a1f62" stroke-width="1.25"/>
<text x="383.59999999999997" y="609.9" font-size="9.5" text-anchor="start" font-weight="normal" fill="#231f20" stroke="#231f20" stroke-width="0.08" textLength="80.1" lengthAdjust="spacingAndGlyphs" >Apocynin + medium</text>
<path d="M357,621.6 H379" stroke="#7a5a8e" stroke-width="1.5"/>
<circle cx="368.2" cy="621.6" r="3.9" fill="#5c2a7c" stroke="#3c1a50" stroke-width="0.8"/>
<text x="383.59999999999997" y="624.7" font-size="9.5" text-anchor="start" font-weight="normal" fill="#231f20" stroke="#231f20" stroke-width="0.08" textLength="84.7" lengthAdjust="spacingAndGlyphs" >Apocynin + Zymosan</text>
</svg></body></html>
